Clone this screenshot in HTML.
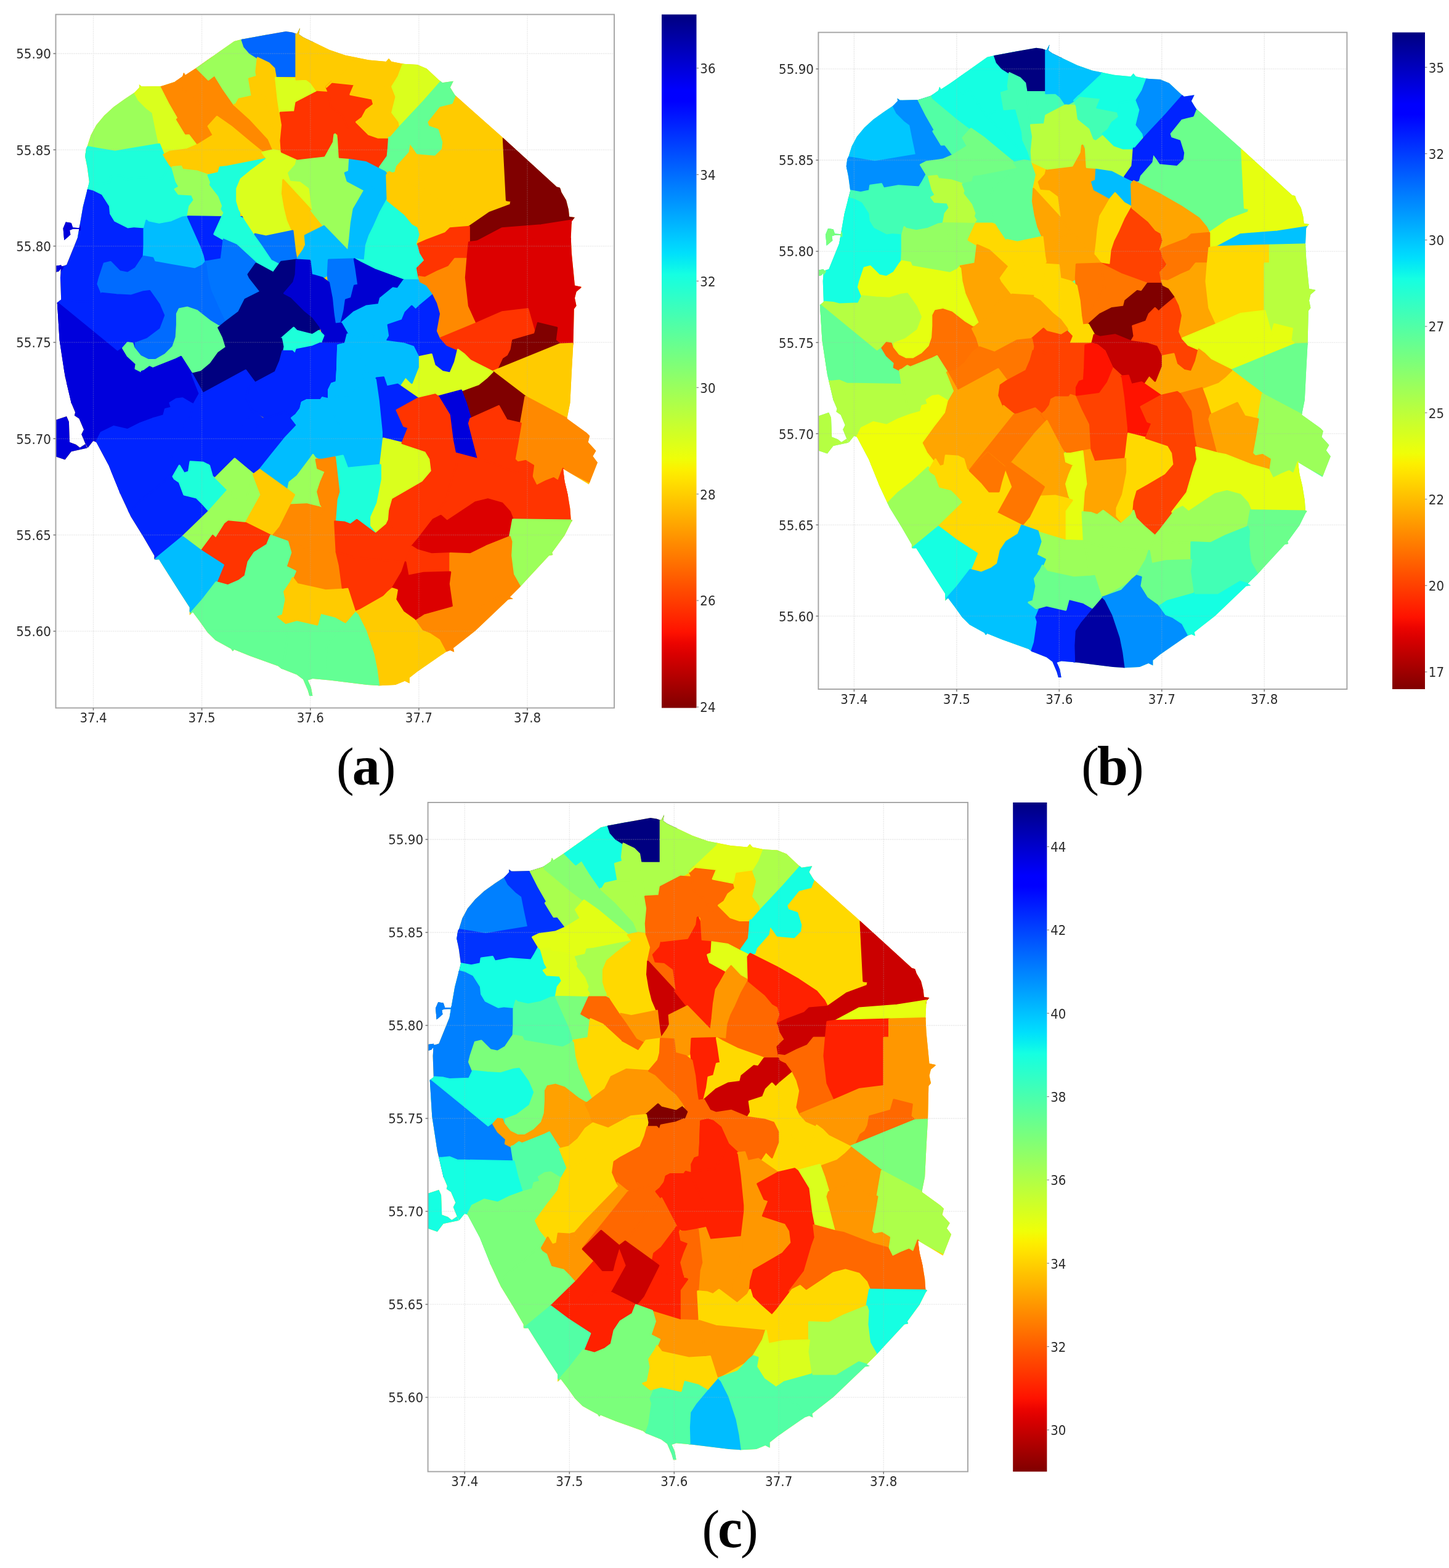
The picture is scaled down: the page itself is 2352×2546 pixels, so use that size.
<!DOCTYPE html>
<html lang="en"><head><meta charset="utf-8"><title>Figure</title>
<style>html,body{margin:0;padding:0;background:#fff}body{width:2352px;height:2546px;overflow:hidden}svg{display:block}.t{font-family:"DejaVu Sans","Liberation Sans",sans-serif;font-size:21px;fill:#2a2a2a}.cap{font-family:"Liberation Serif","DejaVu Serif",serif;font-size:86px;fill:#000;letter-spacing:-3px}.g{stroke:#b0b0b0;stroke-width:1.3;stroke-dasharray:1.3 1.7;fill:none;opacity:.42}</style></head><body>
<svg width="2352" height="2546" viewBox="0 0 2352 2546" role="img" aria-label="Three choropleth maps (a), (b), (c) with colour bars">
<rect width="2352" height="2546" fill="#fff"/>
<defs><linearGradient id="jr" x1="0" y1="1" x2="0" y2="0">
<stop offset="0.0000" stop-color="#800000"/>
<stop offset="0.0156" stop-color="#920000"/>
<stop offset="0.0312" stop-color="#a40000"/>
<stop offset="0.0469" stop-color="#b60000"/>
<stop offset="0.0625" stop-color="#c80000"/>
<stop offset="0.0781" stop-color="#da0000"/>
<stop offset="0.0938" stop-color="#ec0400"/>
<stop offset="0.1094" stop-color="#fe1200"/>
<stop offset="0.1250" stop-color="#ff2100"/>
<stop offset="0.1406" stop-color="#ff3000"/>
<stop offset="0.1562" stop-color="#ff3f00"/>
<stop offset="0.1719" stop-color="#ff4d00"/>
<stop offset="0.1875" stop-color="#ff5c00"/>
<stop offset="0.2031" stop-color="#ff6b00"/>
<stop offset="0.2188" stop-color="#ff7a00"/>
<stop offset="0.2344" stop-color="#ff8800"/>
<stop offset="0.2500" stop-color="#ff9700"/>
<stop offset="0.2656" stop-color="#ffa600"/>
<stop offset="0.2812" stop-color="#ffb500"/>
<stop offset="0.2969" stop-color="#ffc300"/>
<stop offset="0.3125" stop-color="#ffd200"/>
<stop offset="0.3281" stop-color="#ffe100"/>
<stop offset="0.3438" stop-color="#fcf000"/>
<stop offset="0.3594" stop-color="#effe08"/>
<stop offset="0.3750" stop-color="#e2ff15"/>
<stop offset="0.3906" stop-color="#d5ff21"/>
<stop offset="0.4062" stop-color="#c9ff2e"/>
<stop offset="0.4219" stop-color="#bcff3b"/>
<stop offset="0.4375" stop-color="#afff48"/>
<stop offset="0.4531" stop-color="#a2ff55"/>
<stop offset="0.4688" stop-color="#95ff62"/>
<stop offset="0.4844" stop-color="#88ff6f"/>
<stop offset="0.5000" stop-color="#7bff7b"/>
<stop offset="0.5156" stop-color="#6fff88"/>
<stop offset="0.5312" stop-color="#62ff95"/>
<stop offset="0.5469" stop-color="#55ffa2"/>
<stop offset="0.5625" stop-color="#48ffaf"/>
<stop offset="0.5781" stop-color="#3bffbc"/>
<stop offset="0.5938" stop-color="#2effc9"/>
<stop offset="0.6094" stop-color="#21ffd5"/>
<stop offset="0.6250" stop-color="#15ffe2"/>
<stop offset="0.6406" stop-color="#08efef"/>
<stop offset="0.6562" stop-color="#00dffc"/>
<stop offset="0.6719" stop-color="#00cfff"/>
<stop offset="0.6875" stop-color="#00bfff"/>
<stop offset="0.7031" stop-color="#00afff"/>
<stop offset="0.7188" stop-color="#009fff"/>
<stop offset="0.7344" stop-color="#008fff"/>
<stop offset="0.7500" stop-color="#0080ff"/>
<stop offset="0.7656" stop-color="#0070ff"/>
<stop offset="0.7812" stop-color="#0060ff"/>
<stop offset="0.7969" stop-color="#0050ff"/>
<stop offset="0.8125" stop-color="#0040ff"/>
<stop offset="0.8281" stop-color="#0030ff"/>
<stop offset="0.8438" stop-color="#0020ff"/>
<stop offset="0.8594" stop-color="#0010ff"/>
<stop offset="0.8750" stop-color="#0000ff"/>
<stop offset="0.8906" stop-color="#0000fe"/>
<stop offset="0.9062" stop-color="#0000ec"/>
<stop offset="0.9219" stop-color="#0000da"/>
<stop offset="0.9375" stop-color="#0000c8"/>
<stop offset="0.9531" stop-color="#0000b6"/>
<stop offset="0.9688" stop-color="#0000a4"/>
<stop offset="0.9844" stop-color="#000092"/>
<stop offset="1.0000" stop-color="#000080"/>
</linearGradient>
<clipPath id="axa"><rect x="90.5" y="23.5" width="906.5" height="1126.0"/></clipPath>
<clipPath id="citya"><path d="M194.5 800.1L176.7 756.1L156.4 717.9L151.3 716.1L142.4 727.3L138.6 720.5L132.2 705.2L136.0 697.6L128.4 679.8L120.8 674.7L122.1 669.6L115.7 654.3L105.5 611.1L96.6 552.6L92.8 491.6L99.2 486.5L97.9 450.9L99.2 433.1L108.1 430.1L125.9 386.1L134.8 335.2L141.6 308.5L144.9 295.8L141.6 271.6L138.1 253.8L139.9 241.1L141.6 238.0L147.5 219.5L156.4 202.9L169.1 187.7L184.4 173.7L202.2 161.0L218.7 150.0L226.3 141.9L225.8 137.3L230.1 140.6L261.9 139.9L283.5 133.0L296.3 124.1L298.3 117.7L300.8 122.1L319.2 110.1L354.8 84.7L380.2 66.9L392.9 63.8L431.1 56.7L464.1 50.9L474.3 52.4L481.9 54.9L487.0 45.3L485.0 55.4L492.1 60.5L534.8 80.9L560.4 89.8L598.6 97.4L626.6 99.9L631.1 94.9L635.5 99.9L654.5 103.8L677.4 105.0L692.7 111.4L713.0 130.5L718.1 134.3L735.9 131.7L730.8 141.9L738.5 154.6L817.3 224.6L903.8 303.4L908.9 304.7L911.4 312.3L919.0 325.0L922.9 340.3L924.1 351.7L933.0 353.0L927.9 359.4L926.7 386.1L927.9 411.5L930.5 438.1L933.0 463.6L944.5 466.1L935.6 473.8L933.0 483.9L935.6 496.6L931.8 501.7L930.5 557.7L927.9 603.5L925.4 654.3L920.3 679.8L952.1 702.7L957.2 707.7L954.6 717.9L967.4 731.9L962.3 740.8L969.9 751.0L955.9 786.6L914.0 761.1L916.5 781.5L921.6 803.1L925.4 826.0L926.7 843.8L929.2 845.0L926.7 848.8L916.5 869.2L896.1 897.2L897.4 901.0L891.1 902.3L844.0 953.1L827.5 969.6L832.6 972.2L824.9 973.5L771.5 1024.3L735.9 1052.3L737.2 1058.7L730.8 1056.1L723.2 1058.7L677.4 1090.5L664.7 1100.6L664.7 1109.5L657.1 1105.7L641.8 1112.1L616.4 1113.3L596.0 1112.1L535.0 1104.4L507.4 1101.9L499.7 1104.4L504.8 1115.9L507.4 1129.9L502.3 1129.9L499.7 1121.0L492.1 1103.2L481.9 1095.5L456.5 1085.4L451.4 1081.6L405.6 1065.0L380.2 1054.8L377.7 1057.4L375.1 1053.6L349.7 1039.6L337.0 1026.9L324.2 1009.1L312.8 993.8L307.7 998.9L307.7 986.2L291.2 960.7L273.4 932.8L258.1 908.6L250.5 908.6L250.5 902.3L232.7 871.7L212.3 838.7L194.5 800.5ZM89.0 682.3L108.1 675.9L111.9 684.8L113.1 717.9L123.3 721.7L129.7 726.8L138.6 721.0L141.6 727.6L115.7 733.2L105.5 746.4L89.0 740.8ZM89.0 431.8L99.2 430.5L100.4 434.3L95.3 440.7L89.0 442.0ZM106.8 360.6L115.7 361.9L118.2 369.5L129.7 370.3L129.7 371.6L117.7 372.1L113.1 373.9L114.4 381.0L104.2 389.9L102.5 370.8Z"/></clipPath>
<clipPath id="axb"><rect x="1328.4" y="52.6" width="858.0" height="1066.4"/></clipPath>
<clipPath id="cityb"><path d="M1427.1 787.4L1410.2 745.7L1391.0 709.6L1386.2 707.9L1377.8 718.5L1374.2 712.0L1368.2 697.5L1371.8 690.3L1364.6 673.5L1357.4 668.6L1358.6 663.8L1352.6 649.4L1342.9 608.4L1334.5 553.0L1330.9 495.2L1336.9 490.3L1335.7 456.6L1336.9 439.7L1345.3 436.9L1362.2 395.2L1370.6 347.0L1377.1 321.7L1380.2 309.7L1377.1 286.8L1373.7 269.9L1375.4 257.9L1377.1 255.0L1382.6 237.4L1391.0 221.7L1403.0 207.3L1417.5 194.0L1434.3 182.0L1449.9 171.6L1457.1 163.9L1456.6 159.6L1460.7 162.7L1490.8 162.0L1511.2 155.5L1523.2 147.0L1525.1 141.0L1527.5 145.1L1544.8 133.8L1578.5 109.7L1602.5 92.8L1614.5 89.9L1650.6 83.2L1681.9 77.7L1691.5 79.1L1698.7 81.5L1703.5 72.4L1701.6 82.0L1708.3 86.8L1748.7 106.1L1772.9 114.5L1808.9 121.7L1835.4 124.2L1839.7 119.3L1843.8 124.2L1861.8 127.8L1883.4 129.0L1897.9 135.0L1917.1 153.1L1921.9 156.7L1938.7 154.3L1933.9 163.9L1941.1 176.0L2015.6 242.2L2097.4 316.9L2102.2 318.1L2104.6 325.3L2111.8 337.4L2115.4 351.8L2116.6 362.7L2125.0 363.9L2120.2 369.9L2119.0 395.2L2120.2 419.3L2122.6 444.6L2125.0 468.7L2135.8 471.1L2127.4 478.3L2125.0 487.9L2127.4 500.0L2123.8 504.8L2122.6 557.8L2120.2 601.2L2117.8 649.4L2113.0 673.5L2143.0 695.1L2147.8 700.0L2145.4 709.6L2157.4 722.8L2152.6 731.3L2159.8 740.9L2146.6 774.6L2107.0 750.6L2109.4 769.8L2114.2 790.3L2117.8 811.9L2119.0 828.8L2121.4 830.0L2119.0 833.6L2109.4 852.9L2090.1 879.4L2091.3 883.0L2085.3 884.2L2040.9 932.4L2025.2 948.1L2030.1 950.5L2022.8 951.7L1972.4 999.9L1938.7 1026.4L1939.9 1032.4L1933.9 1030.0L1926.7 1032.4L1883.4 1062.5L1871.4 1072.2L1871.4 1080.6L1864.2 1077.0L1849.8 1083.0L1825.7 1084.2L1806.5 1083.0L1748.8 1075.8L1722.7 1073.4L1715.5 1075.8L1720.3 1086.6L1722.7 1099.9L1717.9 1099.9L1715.5 1091.4L1708.3 1074.6L1698.7 1067.3L1674.6 1057.7L1669.8 1054.1L1626.6 1038.4L1602.5 1028.8L1600.1 1031.2L1597.7 1027.6L1573.7 1014.3L1561.7 1002.3L1549.7 985.4L1538.8 971.0L1534.0 975.8L1534.0 963.7L1518.4 939.6L1501.6 913.1L1487.2 890.3L1479.9 890.3L1479.9 884.2L1463.1 855.3L1443.9 824.0L1427.1 787.9ZM1327.3 675.9L1345.3 669.8L1349.0 678.3L1350.2 709.6L1359.8 713.2L1365.8 718.0L1374.2 712.5L1377.1 718.7L1352.6 724.1L1342.9 736.6L1327.3 731.3ZM1327.3 438.5L1336.9 437.3L1338.1 440.9L1333.3 447.0L1327.3 448.2ZM1344.1 371.1L1352.6 372.3L1355.0 379.6L1365.8 380.3L1365.8 381.5L1354.5 382.0L1350.2 383.6L1351.4 390.4L1341.7 398.8L1340.1 380.8Z"/></clipPath>
<clipPath id="axc"><rect x="694.6" y="1303.0" width="876.4" height="1086.5"/></clipPath>
<clipPath id="cityc"><path d="M795.8 2051.7L778.7 2009.2L759.0 1972.4L754.1 1970.7L745.5 1981.5L741.8 1974.9L735.7 1960.1L739.4 1952.7L732.0 1935.6L724.7 1930.6L725.9 1925.7L719.7 1911.0L709.9 1869.2L701.3 1812.7L697.7 1753.8L703.8 1748.9L702.6 1714.5L703.8 1697.3L712.4 1694.4L729.6 1651.9L738.2 1602.7L744.8 1576.9L748.0 1564.7L744.8 1541.3L741.3 1524.1L743.1 1511.8L744.8 1508.9L750.4 1491.0L759.0 1475.0L771.3 1460.3L786.0 1446.7L803.2 1434.5L819.1 1423.9L826.5 1416.0L826.0 1411.6L830.2 1414.8L860.9 1414.1L881.7 1407.4L894.0 1398.8L896.0 1392.7L898.4 1396.9L916.1 1385.3L950.5 1360.8L975.0 1343.6L987.3 1340.6L1024.1 1333.7L1056.0 1328.1L1065.8 1329.6L1073.2 1332.0L1078.1 1322.7L1076.1 1332.5L1083.0 1337.4L1124.2 1357.1L1149.0 1365.7L1185.8 1373.0L1212.8 1375.5L1217.2 1370.6L1221.4 1375.5L1239.8 1379.2L1261.9 1380.4L1276.6 1386.6L1296.2 1405.0L1301.1 1408.7L1318.3 1406.2L1313.4 1416.0L1320.8 1428.3L1396.9 1495.9L1480.3 1572.0L1485.2 1573.3L1487.7 1580.6L1495.0 1592.9L1498.7 1607.6L1499.9 1618.7L1508.5 1619.9L1503.6 1626.1L1502.4 1651.9L1503.6 1676.4L1506.1 1702.2L1508.5 1726.7L1519.6 1729.2L1511.0 1736.6L1508.5 1746.4L1511.0 1758.7L1507.3 1763.6L1506.1 1817.6L1503.6 1861.9L1501.2 1911.0L1496.3 1935.6L1526.9 1957.7L1531.9 1962.6L1529.4 1972.4L1541.7 1985.9L1536.8 1994.5L1544.1 2004.3L1530.6 2038.7L1490.1 2014.2L1492.6 2033.8L1497.5 2054.6L1501.2 2076.8L1502.4 2094.0L1504.9 2095.2L1502.4 2098.9L1492.6 2118.5L1472.9 2145.5L1474.2 2149.2L1468.0 2150.5L1422.6 2199.6L1406.7 2215.6L1411.6 2218.0L1404.2 2219.2L1352.7 2268.4L1318.3 2295.4L1319.5 2301.5L1313.4 2299.1L1306.0 2301.5L1261.9 2332.2L1249.6 2342.1L1249.6 2350.7L1242.2 2347.0L1227.5 2353.1L1203.0 2354.3L1183.3 2353.1L1124.4 2345.8L1097.7 2343.3L1090.4 2345.8L1095.3 2356.8L1097.7 2370.3L1092.8 2370.3L1090.4 2361.7L1083.0 2344.5L1073.2 2337.2L1048.6 2327.3L1043.7 2323.6L999.6 2307.7L975.0 2297.8L972.6 2300.3L970.1 2296.6L945.6 2283.1L933.3 2270.8L921.0 2253.6L910.0 2238.9L905.1 2243.8L905.1 2231.5L889.1 2207.0L871.9 2179.9L857.2 2156.6L849.8 2156.6L849.8 2150.5L832.6 2121.0L813.0 2089.0L795.8 2052.2ZM694.0 1938.0L712.4 1931.9L716.1 1940.5L717.3 1972.4L727.1 1976.1L733.2 1981.0L741.8 1975.3L744.8 1981.7L719.7 1987.1L709.9 1999.9L694.0 1994.5ZM694.0 1696.0L703.8 1694.8L705.0 1698.5L700.1 1704.6L694.0 1705.9ZM711.2 1627.3L719.7 1628.5L722.2 1635.9L733.2 1636.6L733.2 1637.9L721.7 1638.4L717.3 1640.1L718.5 1647.0L708.7 1655.5L707.0 1637.1Z"/></clipPath>
</defs>
<g clip-path="url(#axa)">
<g clip-path="url(#citya)" shape-rendering="auto">
<rect x="90.5" y="23.5" width="906.5" height="1126.0" fill="#ffcb00"/>
<path d="M113.1 106.3L232.7 141.9L268.3 182.6L278.5 258.9L113.1 258.9Z" fill="#9cff5a" stroke="#9cff5a" stroke-width="3" stroke-linejoin="round"/>
<path d="M212.3 131.7L218.7 150.0L225.1 162.3L237.8 175.0L247.9 182.6L253.0 208.0L258.6 234.2L263.2 258.9L329.3 258.9L329.3 131.7Z" fill="#daff1d" stroke="#daff1d" stroke-width="3" stroke-linejoin="round"/>
<path d="M125.9 238.0L141.6 238.5L164.0 242.4L186.9 246.2L217.4 241.1L258.6 234.2L265.7 251.3L275.9 267.8L303.9 309.8L125.9 309.8Z" fill="#1dffda" stroke="#1dffda" stroke-width="3" stroke-linejoin="round"/>
<path d="M125.9 295.8L144.9 295.8L162.7 299.1L178.0 295.8L179.3 286.9L198.3 284.3L202.2 292.0L227.6 287.4L263.2 289.9L268.3 281.8L275.9 267.8L329.3 267.8L329.3 386.1L125.9 386.1Z" fill="#1dffda" stroke="#1dffda" stroke-width="3" stroke-linejoin="round"/>
<path d="M261.9 93.6L261.9 139.9L275.9 167.3L289.9 191.5L287.4 194.0L301.4 216.9L307.7 216.4L321.7 234.7L329.3 258.9L405.6 258.9L405.6 93.6Z" fill="#ff8900" stroke="#ff8900" stroke-width="3" stroke-linejoin="round"/>
<path d="M286.1 93.6L286.1 136.3L329.3 172.4L352.2 189.5L380.2 223.3L426.0 258.9L456.5 258.9L456.5 106.3Z" fill="#ff8900" stroke="#ff8900" stroke-width="3" stroke-linejoin="round"/>
<path d="M275.9 267.8L265.7 251.3L275.9 246.2L303.9 242.4L321.7 234.7L346.4 219.5L338.2 205.0L352.2 189.5L375.1 205.5L405.6 230.9L426.0 247.5L443.8 258.9L405.6 297.0L288.6 297.0L279.7 271.6Z" fill="#ffcb00" stroke="#ffcb00" stroke-width="3" stroke-linejoin="round"/>
<path d="M279.7 271.6L293.7 270.3L296.3 275.4L319.2 278.0L338.2 284.3L380.2 284.3L380.2 360.6L304.7 360.6L304.7 351.7L307.7 335.2L315.3 325.0L311.5 316.1L289.9 314.8L284.1 307.2L291.2 303.4L286.1 294.5Z" fill="#9cff5a" stroke="#9cff5a" stroke-width="3" stroke-linejoin="round"/>
<path d="M314.1 106.3L319.2 110.1L338.2 129.2L348.4 121.6L362.4 144.4L380.2 169.9L431.1 169.9L431.1 42.7L314.1 42.7Z" fill="#9cff5a" stroke="#9cff5a" stroke-width="3" stroke-linejoin="round"/>
<path d="M391.6 55.4L392.9 64.3L396.7 75.8L405.6 86.0L418.3 94.1L431.1 136.8L507.4 136.8L507.4 40.2L391.6 40.2Z" fill="#0066ff" stroke="#0066ff" stroke-width="3" stroke-linejoin="round"/>
<path d="M409.2 156.1L387.8 161.0L382.7 169.9L380.2 169.9L405.6 192.8L436.1 225.8L443.8 243.6L456.5 246.7L481.9 246.7L481.9 156.1Z" fill="#ffcb00" stroke="#ffcb00" stroke-width="3" stroke-linejoin="round"/>
<path d="M418.3 94.1L436.1 102.5L445.0 111.4L447.6 126.6L481.9 126.6L481.9 248.7L456.5 246.7L451.2 229.1L441.7 208.8L440.5 195.3L429.5 154.6L409.2 156.1L404.4 127.9L417.1 124.1L415.8 116.5Z" fill="#ffcb00" stroke="#ffcb00" stroke-width="3" stroke-linejoin="round"/>
<path d="M447.6 126.6L480.7 127.9L504.8 127.9L512.4 148.3L479.4 164.8L478.1 180.1L454.5 182.6L451.4 162.3Z" fill="#daff1d" stroke="#daff1d" stroke-width="3" stroke-linejoin="round"/>
<path d="M113.1 308.5L141.6 308.5L151.3 311.0L164.0 317.4L175.5 335.2L176.7 347.9L184.4 360.6L207.3 372.1L217.4 370.8L234.0 372.1L253.0 400.0L253.0 501.7L75.0 501.7L75.0 400.0Z" fill="#0024ff" stroke="#0024ff" stroke-width="3" stroke-linejoin="round"/>
<path d="M305.2 351.7L296.3 353.0L278.5 360.6L258.1 364.4L240.3 360.6L237.8 358.1L234.0 372.1L234.0 400.0L233.2 416.5L233.2 450.9L380.2 450.9L380.2 353.0Z" fill="#00bdff" stroke="#00bdff" stroke-width="3" stroke-linejoin="round"/>
<path d="M305.2 351.7L361.1 352.5L405.6 352.4L405.6 476.3L334.4 476.3L334.4 424.7L331.9 414.0L326.8 400.0Z" fill="#0024ff" stroke="#0024ff" stroke-width="3" stroke-linejoin="round"/>
<path d="M165.3 476.3L158.9 461.0L161.5 450.9L169.1 428.0L179.3 425.4L186.9 433.1L194.5 440.7L207.3 443.2L220.0 435.6L230.1 420.3L233.2 416.5L247.9 419.1L250.5 425.4L278.5 430.5L316.6 436.9L329.3 430.5L334.4 424.7L405.6 424.7L405.6 603.5L165.3 603.5Z" fill="#006bff" stroke="#006bff" stroke-width="3" stroke-linejoin="round"/>
<path d="M75.0 489.0L92.8 489.0L100.4 486.5L115.7 487.7L125.9 490.3L158.9 489.0L165.3 476.3L189.4 478.8L212.3 480.1L232.7 473.8L242.9 472.5L258.1 494.1L265.7 511.9L258.1 532.3L237.8 547.5L217.4 555.1L217.4 603.5L75.0 603.5Z" fill="#0024ff" stroke="#0024ff" stroke-width="3" stroke-linejoin="round"/>
<path d="M75.0 476.3L92.8 491.6L190.7 571.7L199.6 565.3L207.3 578.0L221.2 590.7L220.0 598.4L230.1 603.5L234.0 627.6L234.0 654.3L75.0 654.3Z" fill="#0000dc" stroke="#0000dc" stroke-width="3" stroke-linejoin="round"/>
<path d="M199.6 565.3L207.3 556.4L214.9 557.7L217.4 565.3L227.6 578.0L240.3 584.4L253.0 584.4L268.3 575.5L281.0 562.8L286.1 547.5L287.4 527.2L287.4 509.4L291.2 501.7L303.9 499.2L319.2 504.3L342.0 522.1L354.8 529.7L380.2 529.7L380.2 628.9L253.0 628.9L239.0 607.3L230.1 603.5L220.0 598.4L221.2 590.7L207.3 578.0Z" fill="#63ff94" stroke="#63ff94" stroke-width="3" stroke-linejoin="round"/>
<path d="M230.1 603.5L234.0 602.2L242.9 595.8L247.9 598.4L286.1 583.1L293.7 579.3L311.5 607.3L354.8 607.3L354.8 730.6L234.0 730.6L234.0 627.6Z" fill="#0000dc" stroke="#0000dc" stroke-width="3" stroke-linejoin="round"/>
<path d="M75.0 622.5L113.1 622.5L125.9 621.3L138.6 626.4L234.0 628.1L240.3 654.3L247.9 679.8L247.9 800.1L75.0 800.1Z" fill="#0000dc" stroke="#0000dc" stroke-width="3" stroke-linejoin="round"/>
<path d="M156.4 717.9L164.0 702.7L184.4 692.5L207.3 697.6L227.6 687.4L247.9 679.8L265.7 674.7L268.3 664.5L278.5 662.0L275.9 654.3L286.1 648.0L296.3 646.7L309.0 654.3L314.1 656.9L329.3 656.9L329.3 800.1L125.9 800.1Z" fill="#0024ff" stroke="#0024ff" stroke-width="3" stroke-linejoin="round"/>
<path d="M433.5 257.7L426.6 263.1L406.3 278.3L391.0 291.0L384.7 306.3L384.7 326.6L388.5 339.4L388.5 352.1L360.5 352.1L364.3 345.7L360.0 339.4L361.8 334.3L355.4 317.7L341.4 299.9L342.7 296.1L338.1 284.4L354.7 280.6L357.2 271.7L368.7 270.4Z" fill="#1dffda" stroke="#1dffda" stroke-width="3" stroke-linejoin="round"/>
<path d="M360.5 352.1L388.5 352.1L398.7 357.2L413.9 380.1L426.6 397.9L441.9 420.7L457.2 428.4L444.4 443.6L413.9 425.8L383.4 397.9L363.1 389.0L347.8 380.1Z" fill="#1dffda" stroke="#1dffda" stroke-width="3" stroke-linejoin="round"/>
<path d="M425.9 247.5L443.7 243.7L457.2 246.3L464.8 268.1L459.7 292.3L458.4 313.9L462.3 336.8L467.3 357.2L475.0 375.0L431.7 383.9L413.9 380.1L398.7 357.2L388.5 339.4L384.7 326.6L384.7 306.3L391.0 291.0L406.3 278.3L426.6 263.1L433.5 257.7Z" fill="#daff1d" stroke="#daff1d" stroke-width="3" stroke-linejoin="round"/>
<path d="M457.2 246.3L482.6 258.0L480.1 268.1L468.6 280.9L472.4 292.3L487.7 293.6L502.9 305.0L508.0 341.9L505.5 341.9L459.7 292.3L464.8 268.1Z" fill="#daff1d" stroke="#daff1d" stroke-width="3" stroke-linejoin="round"/>
<path d="M459.7 292.3L505.5 341.9L525.8 367.3L495.3 382.6L496.6 397.9L492.8 405.5L481.3 422.0L478.8 408.0L475.0 375.0L467.3 357.2L462.3 336.8L458.4 313.9Z" fill="#ffcb00" stroke="#ffcb00" stroke-width="3" stroke-linejoin="round"/>
<path d="M413.9 380.1L431.7 383.9L475.0 375.0L478.8 408.0L481.3 422.0L457.2 428.4L441.9 420.7L426.6 397.9Z" fill="#0075ff" stroke="#0075ff" stroke-width="3" stroke-linejoin="round"/>
<path d="M482.6 258.0L525.8 252.9L538.5 230.0L542.4 214.7L548.7 230.0L551.3 255.4L567.8 256.7L566.5 278.3L560.2 280.9L564.0 293.6L589.4 306.3L581.8 326.6L574.2 339.4L570.3 362.3L567.8 387.7L565.3 408.0L525.8 367.3L505.5 341.9L508.0 341.9L502.9 305.0L487.7 293.6L472.4 292.3L468.6 280.9L480.1 268.1Z" fill="#9cff5a" stroke="#9cff5a" stroke-width="3" stroke-linejoin="round"/>
<path d="M567.8 256.7L594.5 260.5L617.4 270.7L626.3 280.9L628.8 306.3L628.8 324.1L614.8 316.5L599.6 299.9L592.0 308.8L564.0 293.6L560.2 280.9L566.5 278.3Z" fill="#00bdff" stroke="#00bdff" stroke-width="3" stroke-linejoin="round"/>
<path d="M599.6 299.9L614.8 316.5L628.8 324.1L617.4 344.4L607.2 367.3L599.6 382.6L594.5 397.9L592.0 423.3L575.4 420.7L565.3 408.0L567.8 387.7L570.3 362.3L574.2 339.4L581.8 326.6L592.0 308.8Z" fill="#00bdff" stroke="#00bdff" stroke-width="3" stroke-linejoin="round"/>
<path d="M628.8 324.1L642.8 336.8L658.1 349.5L668.3 362.3L678.4 369.9L682.2 382.6L678.4 397.9L688.6 418.2L678.4 433.5L678.4 455.1L655.5 455.1L609.8 438.5L584.3 425.8L575.4 420.7L592.0 423.3L594.5 397.9L599.6 382.6L607.2 367.3L617.4 344.4Z" fill="#1dffda" stroke="#1dffda" stroke-width="3" stroke-linejoin="round"/>
<path d="M495.3 382.6L525.8 367.3L565.3 408.0L575.4 420.7L533.5 422.0L532.2 446.2L523.3 451.3L505.5 446.2L502.9 423.3L481.3 422.0L492.8 405.5L496.6 397.9Z" fill="#00bdff" stroke="#00bdff" stroke-width="3" stroke-linejoin="round"/>
<path d="M533.5 422.0L575.4 420.7L578.0 436.0L581.8 462.7L575.4 464.0L570.3 484.3L561.4 486.9L558.9 504.7L553.8 525.0L543.6 526.3L541.1 509.8L538.5 484.3L533.5 458.9L532.2 446.2Z" fill="#0075ff" stroke="#0075ff" stroke-width="3" stroke-linejoin="round"/>
<path d="M575.4 420.7L584.3 425.8L609.8 438.5L655.5 455.1L645.4 469.1L637.7 467.8L617.4 484.3L614.8 494.5L594.5 497.0L574.2 507.2L553.8 525.0L558.9 504.7L561.4 486.9L570.3 484.3L575.4 464.0L581.8 462.7L578.0 436.0Z" fill="#0000d1" stroke="#0000d1" stroke-width="3" stroke-linejoin="round"/>
<path d="M655.5 455.1L678.4 455.1L691.1 458.9L698.8 469.1L703.9 478.0L681.0 497.0L674.6 503.4L668.3 497.0L658.1 507.2L653.0 519.9L630.1 527.6L632.7 545.4L627.6 554.3L599.6 542.8L574.2 546.6L564.0 542.8L553.8 525.0L574.2 507.2L594.5 497.0L614.8 494.5L617.4 484.3L637.7 467.8L645.4 469.1Z" fill="#00bdff" stroke="#00bdff" stroke-width="3" stroke-linejoin="round"/>
<path d="M703.9 478.0L714.0 504.7L711.5 522.5L711.5 542.8L716.6 553.0L734.4 563.2L742.0 570.8L731.8 606.4L719.1 603.9L703.9 591.1L696.2 575.9L678.4 578.4L670.8 563.2L655.5 558.1L627.6 554.3L632.7 545.4L630.1 527.6L653.0 519.9L658.1 507.2L668.3 497.0L674.6 503.4L681.0 497.0Z" fill="#0024ff" stroke="#0024ff" stroke-width="3" stroke-linejoin="round"/>
<path d="M334.3 425.1L359.2 420.7L363.1 389.0L383.4 397.9L413.9 425.8L403.0 445.7L405.5 450.8L423.3 473.6L397.9 486.4L387.7 506.7L367.4 522.0L354.7 494.0L344.5 471.1L339.4 450.8L336.9 427.9Z" fill="#0075ff" stroke="#0075ff" stroke-width="3" stroke-linejoin="round"/>
<path d="M403.0 445.7L415.7 427.9L443.7 443.1L456.4 425.3L481.3 422.0L480.1 446.2L476.7 458.4L461.5 476.2L423.3 473.6L405.5 450.8Z" fill="#000080" stroke="#000080" stroke-width="3" stroke-linejoin="round"/>
<path d="M367.4 522.0L387.7 506.7L397.9 486.4L423.3 473.6L461.5 476.2L472.4 481.8L495.3 504.7L508.0 514.8L519.5 530.1L515.7 540.3L508.0 542.8L481.8 537.2L476.7 532.1L456.4 549.9L431.0 552.5L392.8 572.8L367.4 563.9L362.3 547.4L354.7 532.1Z" fill="#000080" stroke="#000080" stroke-width="3" stroke-linejoin="round"/>
<path d="M481.3 422.0L502.9 423.3L505.5 446.2L523.3 451.3L533.5 458.9L538.5 484.3L541.1 509.8L543.6 526.3L553.8 525.0L564.0 542.8L560.2 558.1L523.3 558.1L525.8 545.4L519.5 530.1L508.0 514.8L495.3 504.7L472.4 481.8L461.5 476.2L476.7 458.4L480.1 446.2Z" fill="#0000d1" stroke="#0000d1" stroke-width="3" stroke-linejoin="round"/>
<path d="M456.4 549.9L476.7 532.1L481.8 537.2L507.3 543.6L517.4 537.2L525.1 544.9L520.0 557.6L507.3 562.7L481.8 567.7L479.3 575.4L474.2 570.3L458.9 570.3L458.9 562.7Z" fill="#1dffda" stroke="#1dffda" stroke-width="3" stroke-linejoin="round"/>
<path d="M367.5 564.0L392.9 572.9L431.1 552.6L456.5 550.1L459.0 562.8L454.7 586.2L447.1 604.0L414.0 621.8L398.8 601.4L329.3 639.1L311.5 607.3L326.8 603.5L342.0 590.7L354.8 572.9Z" fill="#000080" stroke="#000080" stroke-width="3" stroke-linejoin="round"/>
<path d="M480.9 45.3L480.9 128.9L497.2 128.2L505.3 134.3L515.5 149.0L529.7 141.1L577.0 96.6L577.0 55.4Z" fill="#ffcb00" stroke="#ffcb00" stroke-width="3" stroke-linejoin="round"/>
<path d="M455.2 183.1L478.4 181.8L480.9 166.8L514.7 149.3L533.8 150.6L536.4 172.4L556.7 188.4L563.6 206.2L566.3 207.5L578.5 198.1L598.6 218.2L613.8 223.3L631.6 223.3L630.4 241.1L629.1 253.8L616.4 271.6L594.5 260.4L567.8 256.6L551.3 255.3L549.0 218.2L543.9 214.4L540.1 216.9L538.6 229.9L525.8 252.9L482.6 258.0L457.2 246.3L456.0 228.4L458.5 202.9Z" fill="#ff3400" stroke="#ff3400" stroke-width="3" stroke-linejoin="round"/>
<path d="M529.7 141.1L537.8 133.0L575.7 137.1L568.8 153.3L604.2 160.2L606.7 169.6L594.5 179.0L587.9 191.2L578.5 198.1L566.3 207.5L563.5 206.2L556.6 188.4L536.5 172.4L533.7 150.6Z" fill="#ff3400" stroke="#ff3400" stroke-width="3" stroke-linejoin="round"/>
<path d="M529.7 141.1L577.0 96.6L577.0 80.9L657.1 80.9L654.5 103.8L646.9 124.1L636.7 140.6L608.8 144.4L606.2 157.2L604.2 160.2L568.8 153.3L575.7 137.1L537.8 133.0Z" fill="#ffcb00" stroke="#ffcb00" stroke-width="3" stroke-linejoin="round"/>
<path d="M608.8 144.4L636.7 140.6L643.1 157.2L636.7 182.6L648.2 197.9L634.2 223.3L631.6 223.3L613.8 223.3L598.6 218.2L578.5 198.1L587.9 191.2L594.5 179.0L606.7 169.6L604.2 160.2L606.2 157.2Z" fill="#ffcb00" stroke="#ffcb00" stroke-width="3" stroke-linejoin="round"/>
<path d="M654.5 103.8L654.5 80.9L718.1 106.3L715.6 133.0L687.6 164.8L649.4 205.5L648.2 197.9L636.7 182.6L643.1 157.2L636.7 140.6L646.9 124.1Z" fill="#daff1d" stroke="#daff1d" stroke-width="3" stroke-linejoin="round"/>
<path d="M738.5 154.6L817.3 224.6L822.4 325.0L830.0 326.3L828.7 332.7L794.4 345.4L761.4 368.3L756.3 358.1L743.5 342.8L713.0 322.5L677.4 302.1L641.8 284.3L631.6 279.2L639.3 278.0L641.8 269.1L662.2 246.2L664.7 230.9L672.3 241.1L677.4 248.7L705.4 251.3L715.6 241.1L716.8 230.9L710.5 210.6L695.2 205.5L692.7 197.9L713.0 172.4L723.2 169.9L733.4 167.3Z" fill="#ffcb00" stroke="#ffcb00" stroke-width="3" stroke-linejoin="round"/>
<path d="M715.6 133.0L718.1 126.6L738.5 126.6L738.5 154.6L733.4 167.3L723.2 169.9L713.0 172.4L692.7 197.9L695.2 205.5L710.5 210.6L716.8 230.9L715.6 241.1L705.4 251.3L677.4 248.7L672.3 241.1L664.7 230.9L662.2 246.2L641.8 269.1L639.3 278.0L631.6 279.2L616.4 271.6L629.1 253.8L630.4 241.1L631.6 223.3L634.2 223.3L649.4 205.5L687.6 164.8Z" fill="#63ff94" stroke="#63ff94" stroke-width="3" stroke-linejoin="round"/>
<path d="M631.6 279.2L641.8 284.3L677.4 302.1L713.0 322.5L743.5 342.8L756.3 358.1L761.4 368.3L730.8 370.8L723.2 378.4L692.7 389.9L677.4 396.2L682.5 381.0L678.7 368.3L669.8 363.2L657.1 347.9L644.4 337.7L629.1 325.0L627.8 284.3Z" fill="#ffcb00" stroke="#ffcb00" stroke-width="3" stroke-linejoin="round"/>
<path d="M817.3 224.6L941.9 335.2L941.9 360.6L927.9 361.9L878.3 368.3L814.8 374.6L761.4 398.8L761.4 368.3L794.4 345.4L828.7 332.7L830.0 326.3L822.4 325.0Z" fill="#800000" stroke="#800000" stroke-width="3" stroke-linejoin="round"/>
<path d="M774.1 392.4L814.8 370.8L878.3 365.7L927.9 358.1L941.9 358.1L941.9 388.6L927.9 388.6Z" fill="#dc0000" stroke="#dc0000" stroke-width="3" stroke-linejoin="round"/>
<path d="M678.7 396.2L692.7 389.8L723.2 378.4L730.8 370.8L761.4 368.2L761.4 393.6L758.8 420.3L738.5 420.3L728.3 433.1L710.5 440.7L690.1 450.9L680.0 449.6L677.4 435.6L690.1 422.9L682.5 410.2Z" fill="#ff3400" stroke="#ff3400" stroke-width="3" stroke-linejoin="round"/>
<path d="M680.0 449.6L690.1 450.9L710.5 440.7L728.3 433.1L738.5 420.3L758.8 420.3L756.3 450.9L761.4 496.6L774.1 524.6L715.6 548.8L710.5 537.3L715.6 509.4L710.5 491.6L702.9 476.3L692.7 462.3L682.5 457.2Z" fill="#ff8900" stroke="#ff8900" stroke-width="3" stroke-linejoin="round"/>
<path d="M761.4 393.6L774.1 391.9L865.6 389.3L865.6 420.3L856.7 420.3L856.7 501.7L814.8 506.8L774.1 524.6L761.4 496.6L756.3 450.9L758.8 420.3Z" fill="#dc0000" stroke="#dc0000" stroke-width="3" stroke-linejoin="round"/>
<path d="M865.6 389.3L941.9 387.3L941.9 557.7L908.9 559.0L901.2 552.6L903.8 532.3L873.3 524.6L868.2 542.4L856.7 501.7L856.7 420.3L865.6 420.3Z" fill="#dc0000" stroke="#dc0000" stroke-width="3" stroke-linejoin="round"/>
<path d="M715.6 548.8L774.1 524.6L814.8 506.8L856.7 501.7L868.2 542.4L832.6 552.6L830.0 567.9L824.9 578.0L817.3 583.1L809.7 598.4L799.5 603.5L789.3 598.4L763.9 585.7L753.7 575.5L743.5 567.9L725.7 560.2Z" fill="#ff3400" stroke="#ff3400" stroke-width="3" stroke-linejoin="round"/>
<path d="M868.2 542.4L873.3 524.6L903.8 532.3L901.2 552.6L908.9 559.0L809.7 599.6L817.3 583.1L824.9 578.0L830.0 567.9L832.6 552.6Z" fill="#800000" stroke="#800000" stroke-width="3" stroke-linejoin="round"/>
<path d="M799.5 603.5L908.9 559.0L941.9 557.7L941.9 654.3L920.3 679.8L852.9 644.2Z" fill="#ffcb00" stroke="#ffcb00" stroke-width="3" stroke-linejoin="round"/>
<path d="M799.5 603.5L852.9 644.2L845.3 687.4L822.4 682.3L809.7 659.4L763.9 679.8L756.3 654.3L748.6 634.0L776.6 623.8L789.3 613.6Z" fill="#800000" stroke="#800000" stroke-width="3" stroke-linejoin="round"/>
<path d="M852.9 644.2L920.3 679.8L952.1 702.7L980.1 717.9L980.1 794.2L914.0 761.1L906.3 781.5L898.7 776.4L886.0 781.5L870.7 789.1L863.1 779.0L865.6 756.1L852.9 748.4L840.2 751.0L835.1 745.9L840.2 717.9L845.3 687.4Z" fill="#ff8900" stroke="#ff8900" stroke-width="3" stroke-linejoin="round"/>
<path d="M674.9 580.6L700.3 575.5L705.4 593.3L718.1 603.5L730.8 606.0L738.5 588.2L743.5 567.9L753.7 575.5L763.9 585.7L789.3 598.4L799.5 603.5L789.3 613.6L776.6 623.8L748.6 634.0L710.5 644.2L705.4 639.1L685.1 649.2L667.3 636.5L646.9 623.8L654.5 611.1L667.3 618.7L677.4 598.4Z" fill="#daff1d" stroke="#daff1d" stroke-width="3" stroke-linejoin="round"/>
<path d="M710.5 644.2L748.6 634.0L756.3 654.3L763.9 679.8L761.4 687.4L776.6 745.9L738.5 735.7L733.4 717.9L730.8 674.7Z" fill="#0000dc" stroke="#0000dc" stroke-width="3" stroke-linejoin="round"/>
<path d="M763.9 679.8L809.7 659.4L822.4 682.3L845.3 687.4L840.2 717.9L835.1 745.9L840.2 751.0L852.9 748.4L865.6 756.1L863.1 773.9L835.1 766.2L789.3 748.4L776.6 745.9L761.4 687.4Z" fill="#ff3400" stroke="#ff3400" stroke-width="3" stroke-linejoin="round"/>
<path d="M329.3 639.1L398.8 601.4L414.0 621.8L403.1 628.9L400.5 646.7L408.2 664.5L413.3 669.6L354.8 728.1L337.0 748.4L329.3 751.0L309.0 749.7L306.4 766.2L298.8 768.8L288.6 756.1L278.5 743.3L270.8 728.1L291.2 700.1L309.0 677.2L314.1 656.9L324.2 639.1L311.5 607.3Z" fill="#0024ff" stroke="#0024ff" stroke-width="3" stroke-linejoin="round"/>
<path d="M413.9 621.9L447.0 604.1L454.6 586.3L458.9 570.2L474.2 570.2L479.3 575.3L481.8 567.7L507.3 562.6L520.0 557.5L523.3 558.0L560.2 558.0L548.7 560.6L547.5 600.0L546.2 620.3L538.5 622.9L533.5 633.1L534.7 648.3L523.3 645.8L520.7 649.6L497.9 649.6L490.2 653.4L487.7 663.6L480.1 673.8L473.7 678.8L462.3 668.7L431.7 678.8L408.1 664.6L400.4 646.8L403.0 629.0Z" fill="#0024ff" stroke="#0024ff" stroke-width="3" stroke-linejoin="round"/>
<path d="M330.0 750.1L336.9 748.5L354.7 728.2L411.4 669.9L408.1 664.6L426.4 679.9L350.6 774.2L344.0 770.4L340.2 752.6Z" fill="#0024ff" stroke="#0024ff" stroke-width="3" stroke-linejoin="round"/>
<path d="M426.4 679.9L431.7 678.8L462.3 668.7L473.7 678.8L482.6 690.3L462.3 711.9L441.9 737.3L421.6 762.8L411.4 770.4L380.9 745.0L350.6 774.2Z" fill="#0024ff" stroke="#0024ff" stroke-width="3" stroke-linejoin="round"/>
<path d="M560.2 558.0L564.0 542.8L574.2 546.6L599.6 542.8L627.6 554.2L655.5 558.0L670.8 563.1L678.4 578.4L678.4 596.2L668.3 621.6L658.1 611.4L647.9 626.7L645.4 624.2L627.6 628.0L622.5 612.7L611.0 614.0L594.5 598.7L581.8 570.8L569.1 560.6Z" fill="#00bdff" stroke="#00bdff" stroke-width="3" stroke-linejoin="round"/>
<path d="M548.7 560.6L560.2 558.0L569.1 560.6L581.8 570.8L594.5 598.7L611.0 614.0L612.3 615.3L617.4 650.9L622.5 701.7L622.5 711.9L617.4 755.1L564.0 760.2L556.4 739.9L543.6 742.4L523.3 746.2L508.0 738.6L482.6 690.3L473.7 678.8L480.1 673.8L487.7 663.6L490.2 653.4L497.9 649.6L520.7 649.6L523.3 645.8L534.7 648.3L533.5 633.1L538.5 622.9L546.2 620.3L547.5 600.0Z" fill="#00bdff" stroke="#00bdff" stroke-width="3" stroke-linejoin="round"/>
<path d="M473.7 678.8L480.1 673.8L487.7 663.6L490.2 653.4L497.9 649.6L520.7 649.6L523.3 645.8L530.9 648.3L541.1 671.2L553.8 696.6L556.4 739.9L543.6 742.4L523.3 746.2L508.0 738.6L482.6 690.3Z" fill="#00bdff" stroke="#00bdff" stroke-width="3" stroke-linejoin="round"/>
<path d="M548.7 560.6L560.2 558.0L569.1 560.6L581.8 570.8L594.5 598.7L584.3 622.9L571.6 640.7L533.5 645.8L533.5 633.1L538.5 622.9L546.2 620.3L547.5 600.0Z" fill="#00bdff" stroke="#00bdff" stroke-width="3" stroke-linejoin="round"/>
<path d="M421.6 762.8L441.9 737.3L462.3 711.9L482.6 690.3L508.0 738.6L505.5 742.4L482.6 772.9L469.9 783.1L467.3 795.8Z" fill="#00bdff" stroke="#00bdff" stroke-width="3" stroke-linejoin="round"/>
<path d="M469.9 783.1L482.6 772.9L505.5 742.4L508.0 738.6L513.1 746.2L515.7 760.2L528.4 765.3L520.7 783.1L515.7 798.4L520.7 818.7L518.2 823.8L497.9 818.7L469.9 820.0L477.5 803.5L467.3 795.8Z" fill="#9cff5a" stroke="#9cff5a" stroke-width="3" stroke-linejoin="round"/>
<path d="M611.0 614.0L622.5 612.7L627.6 628.0L645.4 624.2L678.4 647.1L644.1 666.1L655.5 691.6L663.2 694.1L653.0 719.5L622.5 711.9L622.5 701.7L617.4 650.9L612.3 615.3Z" fill="#0024ff" stroke="#0024ff" stroke-width="3" stroke-linejoin="round"/>
<path d="M622.5 711.9L653.0 719.5L691.1 732.3L698.8 745.0L701.3 765.3L686.1 783.1L655.5 800.9L637.7 811.1L632.7 828.9L627.6 851.8L609.8 867.0L599.6 854.3L599.6 839.1L609.8 816.2L617.4 778.0L617.4 755.1Z" fill="#daff1d" stroke="#daff1d" stroke-width="3" stroke-linejoin="round"/>
<path d="M543.6 742.4L556.4 739.9L564.0 760.2L617.4 755.1L617.4 778.0L609.8 816.2L599.6 839.1L599.6 854.3L609.8 867.0L579.2 844.2L569.1 851.8L558.9 848.0L543.6 846.7L546.2 811.1L550.0 798.4L546.2 765.3Z" fill="#1dffda" stroke="#1dffda" stroke-width="3" stroke-linejoin="round"/>
<path d="M513.1 746.2L523.3 746.2L543.6 742.4L546.2 765.3L550.0 798.4L546.2 811.1L543.6 846.7L546.2 879.8L546.2 896.3L513.1 895.0L513.1 844.2L525.8 826.4L520.7 818.7L515.7 798.4L520.7 783.1L528.4 765.3L515.7 760.2Z" fill="#ff8900" stroke="#ff8900" stroke-width="3" stroke-linejoin="round"/>
<path d="M439.4 869.6L452.1 854.3L469.9 820.0L497.9 818.7L518.2 823.8L525.8 826.4L513.1 844.2L513.1 895.0L467.3 881.0Z" fill="#ff8900" stroke="#ff8900" stroke-width="3" stroke-linejoin="round"/>
<path d="M467.3 881.0L513.1 895.0L546.2 896.3L551.3 917.9L556.4 956.1L528.4 958.6L482.6 948.4L475.0 938.3L478.8 928.1L464.8 920.5L472.4 892.5Z" fill="#ff8900" stroke="#ff8900" stroke-width="3" stroke-linejoin="round"/>
<path d="M644.1 666.1L678.4 647.1L706.4 640.7L711.5 644.5L729.3 673.8L734.4 714.4L739.5 739.9L741.0 756.2L735.9 786.2L731.8 793.3L721.7 823.8L698.8 846.7L668.3 887.4L647.9 869.6L635.2 856.9L631.4 844.2L632.7 828.9L637.7 811.1L655.5 800.9L686.1 783.1L701.3 765.3L698.8 745.0L691.1 732.3L653.0 719.5L663.2 694.1L655.5 691.6Z" fill="#ff3400" stroke="#ff3400" stroke-width="3" stroke-linejoin="round"/>
<path d="M543.6 846.7L558.9 848.0L569.1 851.8L579.2 844.2L609.8 867.0L627.6 851.8L631.4 844.2L635.2 856.9L647.9 869.6L668.3 887.4L658.1 912.8L655.5 912.8L574.2 905.2L546.2 896.3Z" fill="#ff3400" stroke="#ff3400" stroke-width="3" stroke-linejoin="round"/>
<path d="M546.2 896.3L574.2 905.2L655.5 912.8L658.1 912.8L653.0 928.1L630.1 961.1L576.7 991.7L564.0 956.1L556.4 956.1L551.3 917.9Z" fill="#ff3400" stroke="#ff3400" stroke-width="3" stroke-linejoin="round"/>
<path d="M738.5 735.7L776.6 745.8L789.3 748.4L835.1 766.2L863.1 773.8L870.7 789.1L886.0 781.4L898.7 776.4L906.3 781.4L914.0 761.1L917.8 785.3L927.9 820.9L934.3 845.0L832.6 843.8L827.5 831.0L814.8 817.1L791.9 810.7L771.5 815.8L725.7 846.3L715.6 837.4L702.9 843.8L697.8 846.3L723.2 813.2L735.9 770.0L741.0 756.0Z" fill="#ff3400" stroke="#ff3400" stroke-width="3" stroke-linejoin="round"/>
<path d="M668.3 887.5L677.4 876.8L702.9 843.8L715.6 837.4L725.7 846.3L771.5 815.8L791.9 810.7L814.8 817.1L827.5 831.0L832.6 843.8L827.5 871.7L789.3 887.0L763.9 899.7L730.8 898.4L700.3 899.7L677.4 893.3Z" fill="#dc0000" stroke="#dc0000" stroke-width="3" stroke-linejoin="round"/>
<path d="M658.1 912.9L668.3 887.5L677.4 893.3L700.3 899.7L730.8 898.4L730.8 929.0L687.6 930.2L662.2 935.3Z" fill="#ff3400" stroke="#ff3400" stroke-width="3" stroke-linejoin="round"/>
<path d="M832.6 843.8L926.7 845.0L941.9 846.3L941.9 871.7L844.0 953.1L832.6 932.8L828.7 902.3L830.0 879.4L827.5 871.7Z" fill="#9cff5a" stroke="#9cff5a" stroke-width="3" stroke-linejoin="round"/>
<path d="M730.8 898.4L763.9 899.7L789.3 887.0L827.5 871.7L830.0 879.4L828.7 902.3L832.6 932.8L844.0 953.1L827.5 969.6L814.8 965.8L776.6 988.7L735.9 988.7L733.4 983.6L728.3 948.0L730.8 929.0Z" fill="#ff8900" stroke="#ff8900" stroke-width="3" stroke-linejoin="round"/>
<path d="M672.3 1006.5L687.6 996.4L733.4 983.6L735.9 988.7L776.6 988.7L814.8 965.8L827.5 969.6L840.2 973.5L723.2 1075.2L713.0 1039.6L697.8 1029.4L685.1 1024.3Z" fill="#ff8900" stroke="#ff8900" stroke-width="3" stroke-linejoin="round"/>
<path d="M658.1 912.9L662.2 935.3L687.6 930.2L730.8 929.0L728.3 948.0L733.4 983.6L687.6 996.4L672.3 1006.5L654.5 993.8L641.8 973.5L644.4 958.2L636.7 955.7L653.0 928.2Z" fill="#dc0000" stroke="#dc0000" stroke-width="3" stroke-linejoin="round"/>
<path d="M575.7 993.8L611.3 981.1L630.1 961.3L636.7 955.7L644.4 958.2L641.8 973.5L654.5 993.8L672.3 1006.5L685.1 1024.3L697.8 1029.4L713.0 1039.6L723.2 1058.7L723.2 1087.9L662.2 1126.1L616.4 1126.1L611.3 1087.9L606.2 1062.5L593.5 1024.3L580.8 998.9Z" fill="#ffcb00" stroke="#ffcb00" stroke-width="3" stroke-linejoin="round"/>
<path d="M575.7 993.8L580.8 998.9L593.5 1024.3L606.2 1062.5L611.3 1087.9L616.4 1126.1L530.2 1126.1L528.6 1075.2L530.2 1049.8L540.1 1034.5L560.4 1011.1Z" fill="#63ff94" stroke="#63ff94" stroke-width="3" stroke-linejoin="round"/>
<path d="M180.5 764.9L281.0 764.9L278.5 770.0L250.5 795.4L227.6 813.2L209.8 831.0L189.4 820.9L171.6 770.0Z" fill="#0024ff" stroke="#0024ff" stroke-width="3" stroke-linejoin="round"/>
<path d="M209.8 831.0L227.6 813.2L250.5 795.4L278.5 770.0L283.5 777.6L291.2 782.7L298.8 803.1L319.2 808.1L329.3 818.3L339.5 829.8L296.3 871.7L253.0 907.3L227.6 897.2L189.4 833.6Z" fill="#0024ff" stroke="#0024ff" stroke-width="3" stroke-linejoin="round"/>
<path d="M281.0 773.8L291.2 756.0L298.8 768.7L306.4 766.2L309.0 749.7L329.3 750.9L339.5 756.0L344.6 773.8L370.0 795.4L339.5 829.8L329.3 818.3L319.2 808.1L298.8 803.1L291.2 782.7L283.5 777.6Z" fill="#1dffda" stroke="#1dffda" stroke-width="3" stroke-linejoin="round"/>
<path d="M296.3 871.7L339.5 829.8L370.0 795.4L350.4 775.6L381.0 745.1L411.5 770.5L424.2 803.6L398.8 849.4L370.8 846.8L365.7 850.6L350.4 874.8L345.4 869.7L326.8 894.6Z" fill="#9cff5a" stroke="#9cff5a" stroke-width="3" stroke-linejoin="round"/>
<path d="M350.3 775.5L380.9 745.0L411.4 770.4L403.8 795.8L399.9 811.1L383.4 811.1L370.7 795.8Z" fill="#9cff5a" stroke="#9cff5a" stroke-width="3" stroke-linejoin="round"/>
<path d="M411.4 770.4L421.6 762.8L467.3 795.8L477.5 803.5L452.1 854.3L439.4 869.6L398.7 849.2L424.1 803.5Z" fill="#ffcb00" stroke="#ffcb00" stroke-width="3" stroke-linejoin="round"/>
<path d="M326.8 894.6L345.4 869.7L350.4 874.8L365.7 850.6L370.8 846.8L398.8 849.4L439.5 869.7L433.6 884.4L413.3 897.2L403.1 912.4L398.0 935.3L387.8 942.9L370.0 950.6L350.9 945.5L362.4 917.5Z" fill="#ff3400" stroke="#ff3400" stroke-width="3" stroke-linejoin="round"/>
<path d="M253.0 907.3L296.3 871.7L326.8 894.6L362.4 917.5L350.9 945.5L329.3 973.5L311.5 993.8L298.8 988.7L273.4 948.0Z" fill="#00bdff" stroke="#00bdff" stroke-width="3" stroke-linejoin="round"/>
<path d="M311.5 993.8L329.3 973.5L350.9 945.5L370.0 950.6L387.8 942.9L398.0 935.3L403.1 912.4L413.3 897.2L433.6 884.4L439.5 869.7L466.7 879.4L471.8 897.2L464.1 920.1L479.4 927.7L471.8 945.5L461.6 960.7L464.1 973.5L459.0 998.9L451.4 1001.4L464.1 1011.6L471.8 1009.1L464.1 1026.9L466.7 1034.5L461.6 1070.1L456.5 1085.4L431.1 1100.6L303.9 1024.3Z" fill="#63ff94" stroke="#63ff94" stroke-width="3" stroke-linejoin="round"/>
<path d="M464.1 1011.6L481.9 1006.5L515.0 1014.2L520.1 995.1L545.0 1001.4L560.5 1010.3L540.2 1034.5L530.2 1049.8L528.7 1075.2L530.2 1126.1L494.6 1138.8L456.5 1085.4L461.6 1070.1L466.7 1034.5L464.1 1026.9L471.8 1009.1Z" fill="#63ff94" stroke="#63ff94" stroke-width="3" stroke-linejoin="round"/>
<path d="M451.4 1001.4L459.0 998.9L464.1 973.5L461.6 960.7L471.8 945.5L475.1 938.4L482.7 948.5L528.5 958.7L558.0 956.9L564.1 956.2L575.8 992.5L560.5 1010.3L545.0 1001.4L520.1 995.1L515.0 1014.2L481.9 1006.5L464.1 1011.6Z" fill="#ffcb00" stroke="#ffcb00" stroke-width="3" stroke-linejoin="round"/>
<path d="M100.4 358.1L120.8 358.1L129.7 368.3L129.7 373.3L118.2 373.3L105.5 392.4L100.4 392.4Z" fill="#0000dc" stroke="#0000dc" stroke-width="3" stroke-linejoin="round"/>
<path d="M87.7 429.2L100.4 429.2L101.7 434.3L96.6 442.0L87.7 443.2Z" fill="#0000dc" stroke="#0000dc" stroke-width="3" stroke-linejoin="round"/>
</g>
<path class="g" d="M151.5 23.5V1149.5M327.6 23.5V1149.5M503.8 23.5V1149.5M679.9 23.5V1149.5M856.0 23.5V1149.5M90.5 1024.9H997.0M90.5 868.6H997.0M90.5 712.3H997.0M90.5 555.9H997.0M90.5 399.6H997.0M90.5 243.3H997.0M90.5 87.0H997.0"/>
</g>
<rect x="90.5" y="23.5" width="906.5" height="1126.0" fill="none" stroke="#a4a4a4" stroke-width="1.9"/>
<path d="M151.5 1149.5v4" stroke="#777" stroke-width="1.5"/>
<text class="t" transform="translate(151.5,1173.4) scale(0.945,1)" text-anchor="middle">37.4</text>
<path d="M327.6 1149.5v4" stroke="#777" stroke-width="1.5"/>
<text class="t" transform="translate(327.6,1173.4) scale(0.945,1)" text-anchor="middle">37.5</text>
<path d="M503.8 1149.5v4" stroke="#777" stroke-width="1.5"/>
<text class="t" transform="translate(503.8,1173.4) scale(0.945,1)" text-anchor="middle">37.6</text>
<path d="M679.9 1149.5v4" stroke="#777" stroke-width="1.5"/>
<text class="t" transform="translate(679.9,1173.4) scale(0.945,1)" text-anchor="middle">37.7</text>
<path d="M856.0 1149.5v4" stroke="#777" stroke-width="1.5"/>
<text class="t" transform="translate(856.0,1173.4) scale(0.945,1)" text-anchor="middle">37.8</text>
<path d="M90.5 1024.9h-4" stroke="#777" stroke-width="1.5"/>
<text class="t" transform="translate(83.0,1033.2) scale(0.945,1)" text-anchor="end">55.60</text>
<path d="M90.5 868.6h-4" stroke="#777" stroke-width="1.5"/>
<text class="t" transform="translate(83.0,876.9) scale(0.945,1)" text-anchor="end">55.65</text>
<path d="M90.5 712.3h-4" stroke="#777" stroke-width="1.5"/>
<text class="t" transform="translate(83.0,720.6) scale(0.945,1)" text-anchor="end">55.70</text>
<path d="M90.5 555.9h-4" stroke="#777" stroke-width="1.5"/>
<text class="t" transform="translate(83.0,564.2) scale(0.945,1)" text-anchor="end">55.75</text>
<path d="M90.5 399.6h-4" stroke="#777" stroke-width="1.5"/>
<text class="t" transform="translate(83.0,407.9) scale(0.945,1)" text-anchor="end">55.80</text>
<path d="M90.5 243.3h-4" stroke="#777" stroke-width="1.5"/>
<text class="t" transform="translate(83.0,251.6) scale(0.945,1)" text-anchor="end">55.85</text>
<path d="M90.5 87.0h-4" stroke="#777" stroke-width="1.5"/>
<text class="t" transform="translate(83.0,95.3) scale(0.945,1)" text-anchor="end">55.90</text>
<rect x="1074.0" y="23.5" width="56.5" height="1126.0" fill="url(#jr)"/>
<path d="M1130.5 1148.0h3.5" stroke="#888" stroke-width="1.2"/>
<text class="t" transform="translate(1136.3,1156.3) scale(0.945,1)">24</text>
<path d="M1130.5 975.1h3.5" stroke="#888" stroke-width="1.2"/>
<text class="t" transform="translate(1136.3,983.4) scale(0.945,1)">26</text>
<path d="M1130.5 802.2h3.5" stroke="#888" stroke-width="1.2"/>
<text class="t" transform="translate(1136.3,810.5) scale(0.945,1)">28</text>
<path d="M1130.5 629.3h3.5" stroke="#888" stroke-width="1.2"/>
<text class="t" transform="translate(1136.3,637.6) scale(0.945,1)">30</text>
<path d="M1130.5 456.4h3.5" stroke="#888" stroke-width="1.2"/>
<text class="t" transform="translate(1136.3,464.7) scale(0.945,1)">32</text>
<path d="M1130.5 283.5h3.5" stroke="#888" stroke-width="1.2"/>
<text class="t" transform="translate(1136.3,291.8) scale(0.945,1)">34</text>
<path d="M1130.5 110.6h3.5" stroke="#888" stroke-width="1.2"/>
<text class="t" transform="translate(1136.3,118.9) scale(0.945,1)">36</text>
<g clip-path="url(#axb)">
<g clip-path="url(#cityb)" shape-rendering="auto">
<rect x="1328.4" y="52.6" width="858.0" height="1066.4" fill="#6bff8c"/>
<path d="M1350.2 130.2L1463.1 163.9L1496.8 202.5L1506.4 274.7L1350.2 274.7Z" fill="#00c7ff" stroke="#00c7ff" stroke-width="3" stroke-linejoin="round"/>
<path d="M1443.9 154.3L1449.9 171.6L1455.9 183.2L1467.9 195.2L1477.5 202.5L1482.4 226.6L1487.6 251.4L1492.0 274.7L1554.5 274.7L1554.5 154.3Z" fill="#008fff" stroke="#008fff" stroke-width="3" stroke-linejoin="round"/>
<path d="M1362.2 255.0L1377.1 255.5L1398.2 259.1L1419.9 262.7L1448.7 257.9L1487.6 251.4L1494.4 267.5L1504.0 283.2L1530.4 322.9L1362.2 322.9Z" fill="#008fff" stroke="#008fff" stroke-width="3" stroke-linejoin="round"/>
<path d="M1362.2 309.7L1380.2 309.7L1397.0 312.8L1411.4 309.7L1412.6 301.2L1430.7 298.8L1434.3 306.1L1458.3 301.7L1492.0 304.1L1496.8 296.4L1504.0 283.2L1554.5 283.2L1554.5 395.2L1362.2 395.2Z" fill="#42ffb5" stroke="#42ffb5" stroke-width="3" stroke-linejoin="round"/>
<path d="M1490.8 118.1L1490.8 162.0L1504.0 188.0L1517.2 210.9L1514.8 213.3L1528.0 235.0L1534.0 234.5L1547.2 251.9L1554.5 274.7L1626.6 274.7L1626.6 118.1Z" fill="#52ffa5" stroke="#52ffa5" stroke-width="3" stroke-linejoin="round"/>
<path d="M1513.6 118.1L1513.6 158.6L1554.5 192.8L1576.1 209.0L1602.5 241.0L1645.8 274.7L1674.6 274.7L1674.6 130.2Z" fill="#15ffe2" stroke="#15ffe2" stroke-width="3" stroke-linejoin="round"/>
<path d="M1504.0 283.2L1494.4 267.5L1504.0 262.7L1530.4 259.1L1547.2 251.9L1570.6 237.4L1562.9 223.7L1576.1 209.0L1597.7 224.1L1626.6 248.2L1645.8 263.9L1662.6 274.7L1626.6 310.9L1516.0 310.9L1507.6 286.8Z" fill="#73ff84" stroke="#73ff84" stroke-width="3" stroke-linejoin="round"/>
<path d="M1507.6 286.8L1520.8 285.6L1523.2 290.4L1544.8 292.8L1562.9 298.8L1602.5 298.8L1602.5 371.1L1531.1 371.1L1531.1 362.7L1534.0 347.0L1541.2 337.4L1537.6 329.0L1517.2 327.8L1511.7 320.5L1518.4 316.9L1513.6 308.5Z" fill="#b9ff3e" stroke="#b9ff3e" stroke-width="3" stroke-linejoin="round"/>
<path d="M1540.0 130.2L1544.8 133.8L1562.9 151.9L1572.5 144.6L1585.7 166.3L1602.5 190.4L1650.6 190.4L1650.6 69.9L1540.0 69.9Z" fill="#15ffe2" stroke="#15ffe2" stroke-width="3" stroke-linejoin="round"/>
<path d="M1613.3 82.0L1614.5 90.4L1618.2 101.3L1626.6 110.9L1638.6 118.6L1650.6 159.1L1722.7 159.1L1722.7 67.5L1613.3 67.5Z" fill="#000080" stroke="#000080" stroke-width="3" stroke-linejoin="round"/>
<path d="M1629.9 177.4L1609.7 182.0L1604.9 190.4L1602.5 190.4L1626.6 212.1L1655.4 243.4L1662.6 260.3L1674.6 263.2L1698.7 263.2L1698.7 177.4Z" fill="#15ffe2" stroke="#15ffe2" stroke-width="3" stroke-linejoin="round"/>
<path d="M1638.6 118.6L1655.4 126.6L1663.8 135.0L1666.2 149.5L1698.7 149.5L1698.7 265.1L1674.6 263.2L1669.6 246.6L1660.7 227.3L1659.5 214.5L1649.2 176.0L1629.9 177.4L1625.4 150.7L1637.4 147.0L1636.2 139.8Z" fill="#42ffb5" stroke="#42ffb5" stroke-width="3" stroke-linejoin="round"/>
<path d="M1666.2 149.5L1697.5 150.7L1720.3 150.7L1727.5 169.9L1696.3 185.6L1695.1 200.1L1672.7 202.5L1669.8 183.2Z" fill="#42ffb5" stroke="#42ffb5" stroke-width="3" stroke-linejoin="round"/>
<path d="M1350.2 321.7L1377.1 321.7L1386.2 324.1L1398.2 330.2L1409.0 347.0L1410.2 359.1L1417.5 371.1L1439.1 382.0L1448.7 380.8L1464.3 382.0L1482.4 408.4L1482.4 504.8L1314.1 504.8L1314.1 408.4Z" fill="#15ffe2" stroke="#15ffe2" stroke-width="3" stroke-linejoin="round"/>
<path d="M1531.6 362.7L1523.2 363.9L1506.4 371.1L1487.2 374.7L1470.3 371.1L1467.9 368.7L1464.3 382.0L1464.3 408.4L1463.6 424.1L1463.6 456.6L1602.5 456.6L1602.5 363.9Z" fill="#94ff63" stroke="#94ff63" stroke-width="3" stroke-linejoin="round"/>
<path d="M1531.6 362.7L1584.5 363.4L1626.6 363.4L1626.6 480.7L1559.3 480.7L1559.3 431.8L1556.9 421.7L1552.1 408.4Z" fill="#94ff63" stroke="#94ff63" stroke-width="3" stroke-linejoin="round"/>
<path d="M1399.4 480.7L1393.4 466.2L1395.8 456.6L1403.0 434.9L1412.6 432.5L1419.9 439.7L1427.1 447.0L1439.1 449.4L1451.1 442.2L1460.7 427.7L1463.6 424.1L1477.5 426.5L1479.9 432.5L1506.4 437.3L1542.4 443.4L1554.5 437.3L1559.3 431.8L1626.6 431.8L1626.6 601.2L1399.4 601.2Z" fill="#e6ff10" stroke="#e6ff10" stroke-width="3" stroke-linejoin="round"/>
<path d="M1314.1 492.7L1330.9 492.7L1338.1 490.3L1352.6 491.5L1362.2 494.0L1393.4 492.7L1399.4 480.7L1422.3 483.1L1443.9 484.3L1463.1 478.3L1472.7 477.1L1487.2 497.6L1494.4 514.4L1487.2 533.7L1467.9 548.2L1448.7 555.4L1448.7 601.2L1314.1 601.2Z" fill="#b5ff42" stroke="#b5ff42" stroke-width="3" stroke-linejoin="round"/>
<path d="M1314.1 480.7L1330.9 495.2L1423.5 571.1L1431.9 565.0L1439.1 577.1L1452.3 589.1L1451.1 596.4L1460.7 601.2L1464.3 624.1L1464.3 649.4L1314.1 649.4Z" fill="#63ff94" stroke="#63ff94" stroke-width="3" stroke-linejoin="round"/>
<path d="M1431.9 565.0L1439.1 556.6L1446.3 557.8L1448.7 565.0L1458.3 577.1L1470.3 583.1L1482.4 583.1L1496.8 574.7L1508.8 562.6L1513.6 548.2L1514.8 528.9L1514.8 512.0L1518.4 504.8L1530.4 502.4L1544.8 507.2L1566.5 524.1L1578.5 531.3L1602.5 531.3L1602.5 625.3L1482.4 625.3L1469.1 604.8L1460.7 601.2L1451.1 596.4L1452.3 589.1L1439.1 577.1Z" fill="#ff7100" stroke="#ff7100" stroke-width="3" stroke-linejoin="round"/>
<path d="M1460.7 601.2L1464.3 600.0L1472.7 593.9L1477.5 596.4L1513.6 581.9L1520.8 578.3L1537.6 604.8L1578.5 604.8L1578.5 721.6L1464.3 721.6L1464.3 624.1Z" fill="#b5ff42" stroke="#b5ff42" stroke-width="3" stroke-linejoin="round"/>
<path d="M1314.1 619.2L1350.2 619.2L1362.2 618.0L1374.2 622.9L1464.3 624.5L1470.3 649.4L1477.5 673.5L1477.5 787.4L1314.1 787.4Z" fill="#b5ff42" stroke="#b5ff42" stroke-width="3" stroke-linejoin="round"/>
<path d="M1391.0 709.6L1398.2 695.1L1417.5 685.5L1439.1 690.3L1458.3 680.7L1477.5 673.5L1494.4 668.6L1496.8 659.0L1506.4 656.6L1504.0 649.4L1513.6 643.3L1523.2 642.1L1535.2 649.4L1540.0 651.8L1554.5 651.8L1554.5 787.4L1362.2 787.4Z" fill="#efff08" stroke="#efff08" stroke-width="3" stroke-linejoin="round"/>
<path d="M1652.9 273.6L1646.4 278.7L1627.2 293.1L1612.8 305.2L1606.8 319.7L1606.8 338.9L1610.4 351.0L1610.4 363.0L1583.9 363.0L1587.5 357.0L1583.5 351.0L1585.1 346.2L1579.1 330.5L1565.9 313.6L1567.1 310.0L1562.8 298.9L1578.4 295.3L1580.8 286.9L1591.6 285.7Z" fill="#63ff94" stroke="#63ff94" stroke-width="3" stroke-linejoin="round"/>
<path d="M1583.9 363.0L1610.4 363.0L1620.0 367.8L1634.4 389.5L1646.4 406.4L1660.9 428.1L1675.3 435.3L1663.3 449.8L1634.4 432.9L1605.6 406.4L1586.3 398.0L1571.9 389.5Z" fill="#ffd900" stroke="#ffd900" stroke-width="3" stroke-linejoin="round"/>
<path d="M1645.7 264.0L1662.5 260.4L1675.3 262.8L1682.5 283.5L1677.7 306.4L1676.5 326.9L1680.1 348.6L1684.9 367.8L1692.1 384.7L1651.2 393.1L1634.4 389.5L1620.0 367.8L1610.4 351.0L1606.8 338.9L1606.8 319.7L1612.8 305.2L1627.2 293.1L1646.4 278.7L1652.9 273.6Z" fill="#63ff94" stroke="#63ff94" stroke-width="3" stroke-linejoin="round"/>
<path d="M1675.3 262.8L1699.3 273.9L1696.9 283.5L1686.1 295.6L1689.7 306.4L1704.1 307.6L1718.5 318.4L1723.3 353.4L1720.9 353.4L1677.7 306.4L1682.5 283.5Z" fill="#ffd900" stroke="#ffd900" stroke-width="3" stroke-linejoin="round"/>
<path d="M1677.7 306.4L1720.9 353.4L1740.2 377.5L1711.3 391.9L1712.5 406.4L1708.9 413.6L1698.1 429.3L1695.7 416.0L1692.1 384.7L1684.9 367.8L1680.1 348.6L1676.5 326.9Z" fill="#ffa500" stroke="#ffa500" stroke-width="3" stroke-linejoin="round"/>
<path d="M1634.4 389.5L1651.2 393.1L1692.1 384.7L1695.7 416.0L1698.1 429.3L1675.3 435.3L1660.9 428.1L1646.4 406.4Z" fill="#ffd900" stroke="#ffd900" stroke-width="3" stroke-linejoin="round"/>
<path d="M1699.3 273.9L1740.2 269.1L1752.2 247.4L1755.8 232.9L1761.8 247.4L1764.2 271.5L1779.8 272.7L1778.6 293.1L1772.6 295.6L1776.2 307.6L1800.3 319.7L1793.0 338.9L1785.8 351.0L1782.2 372.7L1779.8 396.8L1777.4 416.0L1740.2 377.5L1720.9 353.4L1723.3 353.4L1718.5 318.4L1704.1 307.6L1689.7 306.4L1686.1 295.6L1696.9 283.5Z" fill="#ffa500" stroke="#ffa500" stroke-width="3" stroke-linejoin="round"/>
<path d="M1779.8 272.7L1805.1 276.3L1826.7 285.9L1835.1 295.6L1837.5 319.7L1837.5 336.5L1824.3 329.3L1809.9 313.6L1802.7 322.1L1776.2 307.6L1772.6 295.6L1778.6 293.1Z" fill="#00bdff" stroke="#00bdff" stroke-width="3" stroke-linejoin="round"/>
<path d="M1809.9 313.6L1824.3 329.3L1837.5 336.5L1826.7 355.8L1817.1 377.5L1809.9 391.9L1805.1 406.4L1802.7 430.5L1787.0 428.1L1777.4 416.0L1779.8 396.8L1782.2 372.7L1785.8 351.0L1793.0 338.9L1802.7 322.1Z" fill="#ffd900" stroke="#ffd900" stroke-width="3" stroke-linejoin="round"/>
<path d="M1837.5 336.5L1850.7 348.6L1865.2 360.6L1874.8 372.7L1884.4 379.9L1888.0 391.9L1884.4 406.4L1894.0 425.7L1884.4 440.1L1884.4 460.6L1862.8 460.6L1819.5 444.9L1795.5 432.9L1787.0 428.1L1802.7 430.5L1805.1 406.4L1809.9 391.9L1817.1 377.5L1826.7 355.8Z" fill="#ff4200" stroke="#ff4200" stroke-width="3" stroke-linejoin="round"/>
<path d="M1711.3 391.9L1740.2 377.5L1777.4 416.0L1787.0 428.1L1747.4 429.3L1746.2 452.2L1737.8 457.0L1720.9 452.2L1718.5 430.5L1698.1 429.3L1708.9 413.6L1712.5 406.4Z" fill="#ffa500" stroke="#ffa500" stroke-width="3" stroke-linejoin="round"/>
<path d="M1747.4 429.3L1787.0 428.1L1789.4 442.5L1793.0 467.8L1787.0 469.0L1782.2 488.3L1773.8 490.7L1771.4 507.6L1766.6 526.9L1757.0 528.1L1754.6 512.4L1752.2 488.3L1747.4 464.2L1746.2 452.2Z" fill="#ff7600" stroke="#ff7600" stroke-width="3" stroke-linejoin="round"/>
<path d="M1787.0 428.1L1795.5 432.9L1819.5 444.9L1862.8 460.6L1853.1 473.9L1845.9 472.6L1826.7 488.3L1824.3 497.9L1805.1 500.4L1785.8 510.0L1766.6 526.9L1771.4 507.6L1773.8 490.7L1782.2 488.3L1787.0 469.0L1793.0 467.8L1789.4 442.5Z" fill="#ff7600" stroke="#ff7600" stroke-width="3" stroke-linejoin="round"/>
<path d="M1862.8 460.6L1884.4 460.6L1896.4 464.2L1903.6 473.9L1908.4 482.3L1886.8 500.4L1880.8 506.4L1874.8 500.4L1865.2 510.0L1860.3 522.0L1838.7 529.3L1841.1 546.1L1836.3 554.6L1809.9 543.7L1785.8 547.3L1776.2 543.7L1766.6 526.9L1785.8 510.0L1805.1 500.4L1824.3 497.9L1826.7 488.3L1845.9 472.6L1853.1 473.9Z" fill="#800000" stroke="#800000" stroke-width="3" stroke-linejoin="round"/>
<path d="M1908.4 482.3L1918.0 507.6L1915.6 524.5L1915.6 543.7L1920.4 553.4L1937.3 563.0L1944.5 570.2L1934.9 604.0L1922.8 601.6L1908.4 589.5L1901.2 575.0L1884.4 577.5L1877.2 563.0L1862.8 558.2L1836.3 554.6L1841.1 546.1L1838.7 529.3L1860.3 522.0L1865.2 510.0L1874.8 500.4L1880.8 506.4L1886.8 500.4Z" fill="#ff4200" stroke="#ff4200" stroke-width="3" stroke-linejoin="round"/>
<path d="M1559.2 432.2L1582.7 428.1L1586.3 398.0L1605.6 406.4L1634.4 432.9L1624.1 451.7L1626.5 456.5L1643.3 478.2L1619.3 490.2L1609.7 509.5L1590.4 524.0L1578.4 497.5L1568.8 475.8L1564.0 456.5L1561.6 434.8Z" fill="#ffa500" stroke="#ffa500" stroke-width="3" stroke-linejoin="round"/>
<path d="M1624.1 451.7L1636.1 434.8L1662.5 449.3L1674.6 432.4L1698.1 429.3L1696.9 452.2L1693.8 463.7L1679.4 480.6L1643.3 478.2L1626.5 456.5Z" fill="#ffd900" stroke="#ffd900" stroke-width="3" stroke-linejoin="round"/>
<path d="M1590.4 524.0L1609.7 509.5L1619.3 490.2L1643.3 478.2L1679.4 480.6L1689.7 485.9L1711.3 507.6L1723.3 517.2L1734.2 531.7L1730.6 541.3L1723.3 543.7L1698.6 538.4L1693.8 533.6L1674.6 550.5L1650.5 552.9L1614.5 572.2L1590.4 563.7L1585.6 548.1L1578.4 533.6Z" fill="#ffa500" stroke="#ffa500" stroke-width="3" stroke-linejoin="round"/>
<path d="M1698.1 429.3L1718.5 430.5L1720.9 452.2L1737.8 457.0L1747.4 464.2L1752.2 488.3L1754.6 512.4L1757.0 528.1L1766.6 526.9L1776.2 543.7L1772.6 558.2L1737.8 558.2L1740.2 546.1L1734.2 531.7L1723.3 517.2L1711.3 507.6L1689.7 485.9L1679.4 480.6L1693.8 463.7L1696.9 452.2Z" fill="#ffd900" stroke="#ffd900" stroke-width="3" stroke-linejoin="round"/>
<path d="M1674.6 550.5L1693.8 533.6L1698.6 538.4L1722.6 544.4L1732.2 538.4L1739.4 545.7L1734.6 557.7L1722.6 562.5L1698.6 567.3L1696.2 574.6L1691.4 569.7L1677.0 569.7L1677.0 562.5Z" fill="#ff4200" stroke="#ff4200" stroke-width="3" stroke-linejoin="round"/>
<path d="M1590.5 563.8L1614.5 572.3L1650.6 553.0L1674.6 550.6L1677.0 562.6L1673.0 584.8L1665.7 601.7L1634.5 618.5L1620.1 599.2L1554.5 634.9L1537.6 604.8L1552.1 601.2L1566.5 589.1L1578.5 572.3Z" fill="#ff7600" stroke="#ff7600" stroke-width="3" stroke-linejoin="round"/>
<path d="M1697.7 72.4L1697.7 151.6L1713.1 150.9L1720.8 156.7L1730.4 170.7L1743.9 163.2L1788.6 121.0L1788.6 82.0Z" fill="#00c2ff" stroke="#00c2ff" stroke-width="3" stroke-linejoin="round"/>
<path d="M1673.4 202.9L1695.3 201.7L1697.7 187.5L1729.7 170.9L1747.7 172.1L1750.1 192.8L1769.3 208.0L1775.8 224.9L1778.4 226.1L1789.9 217.2L1808.9 236.2L1823.3 241.0L1840.2 241.0L1839.0 257.9L1837.8 269.9L1825.7 286.8L1805.1 276.2L1779.8 272.6L1764.2 271.4L1762.1 236.2L1757.2 232.6L1753.6 235.0L1752.2 247.3L1740.2 269.1L1699.3 273.9L1675.3 262.8L1674.2 245.8L1676.6 221.7Z" fill="#b9ff3e" stroke="#b9ff3e" stroke-width="3" stroke-linejoin="round"/>
<path d="M1743.8 163.2L1751.5 155.5L1787.3 159.3L1780.8 174.8L1814.2 181.3L1816.6 190.2L1805.1 199.1L1798.8 210.7L1789.9 217.2L1778.4 226.1L1775.8 224.9L1769.3 208.0L1750.3 192.8L1747.6 172.1Z" fill="#42ffb5" stroke="#42ffb5" stroke-width="3" stroke-linejoin="round"/>
<path d="M1743.8 163.2L1788.5 121.0L1788.5 106.1L1864.2 106.1L1861.8 127.8L1854.6 147.0L1845.0 162.7L1818.5 166.3L1816.1 178.4L1814.2 181.3L1780.8 174.8L1787.3 159.3L1751.5 155.5Z" fill="#15ffe2" stroke="#15ffe2" stroke-width="3" stroke-linejoin="round"/>
<path d="M1818.5 166.3L1845.0 162.7L1851.0 178.4L1845.0 202.5L1855.8 216.9L1842.6 241.0L1840.2 241.0L1823.3 241.0L1808.9 236.2L1789.9 217.2L1798.8 210.7L1805.1 199.1L1816.6 190.2L1814.2 181.3L1816.1 178.4Z" fill="#15ffe2" stroke="#15ffe2" stroke-width="3" stroke-linejoin="round"/>
<path d="M1861.8 127.8L1861.8 106.1L1921.9 130.2L1919.5 155.5L1893.0 185.6L1857.0 224.1L1855.8 216.9L1845.0 202.5L1851.0 178.4L1845.0 162.7L1854.6 147.0Z" fill="#008fff" stroke="#008fff" stroke-width="3" stroke-linejoin="round"/>
<path d="M1941.1 176.0L2015.6 242.2L2020.4 337.4L2027.6 338.6L2026.4 344.6L1994.0 356.7L1962.8 378.3L1957.9 368.7L1945.9 354.3L1917.1 335.0L1883.4 315.7L1849.8 298.8L1840.2 294.0L1847.4 292.8L1849.8 284.4L1869.0 262.7L1871.4 248.2L1878.6 257.9L1883.4 265.1L1909.9 267.5L1919.5 257.9L1920.7 248.2L1914.7 229.0L1900.3 224.1L1897.9 216.9L1917.1 192.8L1926.7 190.4L1936.3 188.0Z" fill="#6bff8c" stroke="#6bff8c" stroke-width="3" stroke-linejoin="round"/>
<path d="M1919.5 155.5L1921.9 149.5L1941.1 149.5L1941.1 176.0L1936.3 188.0L1926.7 190.4L1917.1 192.8L1897.9 216.9L1900.3 224.1L1914.7 229.0L1920.7 248.2L1919.5 257.9L1909.9 267.5L1883.4 265.1L1878.6 257.9L1871.4 248.2L1869.0 262.7L1849.8 284.4L1847.4 292.8L1840.2 294.0L1825.7 286.8L1837.8 269.9L1839.0 257.9L1840.2 241.0L1842.6 241.0L1857.0 224.1L1893.0 185.6Z" fill="#0024ff" stroke="#0024ff" stroke-width="3" stroke-linejoin="round"/>
<path d="M1840.2 294.0L1849.8 298.8L1883.4 315.7L1917.1 335.0L1945.9 354.3L1957.9 368.7L1962.8 378.3L1933.9 380.8L1926.7 388.0L1897.9 398.8L1883.4 404.9L1888.2 390.4L1884.6 378.3L1876.2 373.5L1864.2 359.1L1852.2 349.4L1837.8 337.4L1836.6 298.8Z" fill="#ffa500" stroke="#ffa500" stroke-width="3" stroke-linejoin="round"/>
<path d="M2015.6 242.2L2133.4 347.0L2133.4 371.1L2120.2 372.3L2073.3 378.3L2013.2 384.4L1962.8 407.3L1962.8 378.3L1994.0 356.7L2026.4 344.6L2027.6 338.6L2020.4 337.4Z" fill="#e6ff10" stroke="#e6ff10" stroke-width="3" stroke-linejoin="round"/>
<path d="M1974.8 401.2L2013.2 380.8L2073.3 375.9L2120.2 368.7L2133.4 368.7L2133.4 397.6L2120.2 397.6Z" fill="#00c2ff" stroke="#00c2ff" stroke-width="3" stroke-linejoin="round"/>
<path d="M1884.6 404.8L1897.9 398.8L1926.7 387.9L1933.9 380.7L1962.8 378.3L1962.8 402.4L1960.3 427.7L1941.1 427.7L1931.5 439.7L1914.7 447.0L1895.5 456.6L1885.8 455.4L1883.4 442.2L1895.5 430.1L1888.2 418.1Z" fill="#ff7600" stroke="#ff7600" stroke-width="3" stroke-linejoin="round"/>
<path d="M1885.8 455.4L1895.5 456.6L1914.7 447.0L1931.5 439.7L1941.1 427.7L1960.3 427.7L1957.9 456.6L1962.8 500.0L1974.8 526.5L1919.5 549.4L1914.7 538.5L1919.5 512.0L1914.7 495.2L1907.5 480.7L1897.9 467.5L1888.2 462.6Z" fill="#ffa500" stroke="#ffa500" stroke-width="3" stroke-linejoin="round"/>
<path d="M1962.8 402.4L1974.8 400.7L2061.3 398.3L2061.3 427.7L2052.9 427.7L2052.9 504.8L2013.2 509.6L1974.8 526.5L1962.8 500.0L1957.9 456.6L1960.3 427.7Z" fill="#ffd900" stroke="#ffd900" stroke-width="3" stroke-linejoin="round"/>
<path d="M2061.3 398.3L2133.4 396.4L2133.4 557.8L2102.2 559.0L2094.9 553.0L2097.4 533.7L2068.5 526.5L2063.7 543.3L2052.9 504.8L2052.9 427.7L2061.3 427.7Z" fill="#b9ff3e" stroke="#b9ff3e" stroke-width="3" stroke-linejoin="round"/>
<path d="M1919.5 549.4L1974.8 526.5L2013.2 509.6L2052.9 504.8L2063.7 543.3L2030.1 553.0L2027.6 567.4L2022.8 577.1L2015.6 581.9L2008.4 596.4L1998.8 601.2L1989.2 596.4L1965.2 584.3L1955.5 574.7L1945.9 567.4L1929.1 560.2Z" fill="#e6ff10" stroke="#e6ff10" stroke-width="3" stroke-linejoin="round"/>
<path d="M2063.7 543.3L2068.5 526.5L2097.4 533.7L2094.9 553.0L2102.2 559.0L2008.4 597.6L2015.6 581.9L2022.8 577.1L2027.6 567.4L2030.1 553.0Z" fill="#e6ff10" stroke="#e6ff10" stroke-width="3" stroke-linejoin="round"/>
<path d="M1998.8 601.2L2102.2 559.0L2133.4 557.8L2133.4 649.4L2113.0 673.5L2049.3 639.7Z" fill="#6bff8c" stroke="#6bff8c" stroke-width="3" stroke-linejoin="round"/>
<path d="M1998.8 601.2L2049.3 639.7L2042.1 680.7L2020.4 675.9L2008.4 654.2L1965.2 673.5L1957.9 649.4L1950.7 630.1L1977.2 620.4L1989.2 610.8Z" fill="#ffd900" stroke="#ffd900" stroke-width="3" stroke-linejoin="round"/>
<path d="M2049.3 639.7L2113.0 673.5L2143.0 695.1L2169.5 709.6L2169.5 781.9L2107.0 750.6L2099.8 769.8L2092.5 765.0L2080.5 769.8L2066.1 777.1L2058.9 767.4L2061.3 745.7L2049.3 738.5L2037.3 740.9L2032.5 736.1L2037.3 709.6L2042.1 680.7Z" fill="#9cff5a" stroke="#9cff5a" stroke-width="3" stroke-linejoin="round"/>
<path d="M1881.0 579.5L1905.1 574.7L1909.9 591.5L1921.9 601.2L1933.9 603.6L1941.1 586.7L1945.9 567.4L1955.5 574.7L1965.2 584.3L1989.2 596.4L1998.8 601.2L1989.2 610.8L1977.2 620.4L1950.7 630.1L1914.7 639.7L1909.9 634.9L1890.6 644.5L1873.8 632.5L1854.6 620.4L1861.8 608.4L1873.8 615.6L1883.4 596.4Z" fill="#ffa500" stroke="#ffa500" stroke-width="3" stroke-linejoin="round"/>
<path d="M1914.7 639.7L1950.7 630.1L1957.9 649.4L1965.2 673.5L1962.8 680.7L1977.2 736.1L1941.1 726.5L1936.3 709.6L1933.9 668.6Z" fill="#ff7600" stroke="#ff7600" stroke-width="3" stroke-linejoin="round"/>
<path d="M1965.2 673.5L2008.4 654.2L2020.4 675.9L2042.1 680.7L2037.3 709.6L2032.5 736.1L2037.3 740.9L2049.3 738.5L2061.3 745.7L2058.9 762.6L2032.5 755.4L1989.2 738.5L1977.2 736.1L1962.8 680.7Z" fill="#ffa500" stroke="#ffa500" stroke-width="3" stroke-linejoin="round"/>
<path d="M1554.5 634.9L1620.1 599.2L1634.5 618.5L1624.2 625.3L1621.8 642.1L1629.0 659.0L1633.8 663.8L1578.5 719.2L1561.7 738.5L1554.5 740.9L1535.2 739.7L1532.8 755.4L1525.6 757.8L1516.0 745.7L1506.4 733.7L1499.2 719.2L1518.4 692.7L1535.2 671.0L1540.0 651.8L1549.7 634.9L1537.6 604.8Z" fill="#ffa500" stroke="#ffa500" stroke-width="3" stroke-linejoin="round"/>
<path d="M1634.4 618.6L1665.7 601.7L1672.9 584.9L1677.0 569.7L1691.4 569.7L1696.2 574.5L1698.6 567.3L1722.6 562.5L1734.6 557.7L1737.8 558.1L1772.6 558.1L1761.8 560.5L1760.6 597.9L1759.4 617.2L1752.2 619.6L1747.4 629.2L1748.6 643.7L1737.8 641.3L1735.4 644.9L1713.7 644.9L1706.5 648.5L1704.1 658.1L1696.9 667.8L1690.9 672.6L1680.1 662.9L1651.2 672.6L1628.9 659.1L1621.7 642.2L1624.1 625.4Z" fill="#ff4200" stroke="#ff4200" stroke-width="3" stroke-linejoin="round"/>
<path d="M1555.1 740.0L1561.6 738.6L1578.4 719.3L1632.0 664.1L1628.9 659.1L1646.2 673.5L1574.6 762.9L1568.3 759.3L1564.7 742.5Z" fill="#ffa500" stroke="#ffa500" stroke-width="3" stroke-linejoin="round"/>
<path d="M1646.2 673.5L1651.2 672.6L1680.1 662.9L1690.9 672.6L1699.3 683.4L1680.1 703.9L1660.9 728.0L1641.6 752.1L1632.0 759.3L1603.2 735.2L1574.6 762.9Z" fill="#ff7600" stroke="#ff7600" stroke-width="3" stroke-linejoin="round"/>
<path d="M1772.6 558.1L1776.2 543.7L1785.8 547.3L1809.9 543.7L1836.3 554.5L1862.8 558.1L1877.2 563.0L1884.4 577.4L1884.4 594.3L1874.8 618.4L1865.2 608.7L1855.5 623.2L1853.1 620.8L1836.3 624.4L1831.5 609.9L1820.7 611.1L1805.1 596.7L1793.0 570.2L1781.0 560.5Z" fill="#c50000" stroke="#c50000" stroke-width="3" stroke-linejoin="round"/>
<path d="M1761.8 560.5L1772.6 558.1L1781.0 560.5L1793.0 570.2L1805.1 596.7L1820.7 611.1L1821.9 612.3L1826.7 646.1L1831.5 694.3L1831.5 703.9L1826.7 744.9L1776.2 749.7L1769.0 730.4L1757.0 732.8L1737.8 736.4L1723.3 729.2L1699.3 683.4L1690.9 672.6L1696.9 667.8L1704.1 658.1L1706.5 648.5L1713.7 644.9L1735.4 644.9L1737.8 641.3L1748.6 643.7L1747.4 629.2L1752.2 619.6L1759.4 617.2L1760.6 597.9Z" fill="#ff4200" stroke="#ff4200" stroke-width="3" stroke-linejoin="round"/>
<path d="M1690.9 672.6L1696.9 667.8L1704.1 658.1L1706.5 648.5L1713.7 644.9L1735.4 644.9L1737.8 641.3L1745.0 643.7L1754.6 665.4L1766.6 689.4L1769.0 730.4L1757.0 732.8L1737.8 736.4L1723.3 729.2L1699.3 683.4Z" fill="#ff7600" stroke="#ff7600" stroke-width="3" stroke-linejoin="round"/>
<path d="M1761.8 560.5L1772.6 558.1L1781.0 560.5L1793.0 570.2L1805.1 596.7L1795.5 619.6L1783.4 636.4L1747.4 641.3L1747.4 629.2L1752.2 619.6L1759.4 617.2L1760.6 597.9Z" fill="#ff1300" stroke="#ff1300" stroke-width="3" stroke-linejoin="round"/>
<path d="M1641.6 752.1L1660.9 728.0L1680.1 703.9L1699.3 683.4L1723.3 729.2L1720.9 732.8L1699.3 761.7L1687.3 771.4L1684.9 783.4Z" fill="#ffa500" stroke="#ffa500" stroke-width="3" stroke-linejoin="round"/>
<path d="M1687.3 771.4L1699.3 761.7L1720.9 732.8L1723.3 729.2L1728.2 736.4L1730.6 749.7L1742.6 754.5L1735.4 771.4L1730.6 785.8L1735.4 805.1L1733.0 809.9L1713.7 805.1L1687.3 806.3L1694.5 790.6L1684.9 783.4Z" fill="#ffa500" stroke="#ffa500" stroke-width="3" stroke-linejoin="round"/>
<path d="M1820.7 611.1L1831.5 609.9L1836.3 624.4L1853.1 620.8L1884.4 642.5L1851.9 660.5L1862.8 684.6L1870.0 687.0L1860.3 711.1L1831.5 703.9L1831.5 694.3L1826.7 646.1L1821.9 612.3Z" fill="#ff1300" stroke="#ff1300" stroke-width="3" stroke-linejoin="round"/>
<path d="M1831.5 703.9L1860.3 711.1L1896.4 723.2L1903.6 735.2L1906.0 754.5L1891.6 771.4L1862.8 788.2L1845.9 797.9L1841.1 814.7L1836.3 836.4L1819.5 850.9L1809.9 838.8L1809.9 824.4L1819.5 802.7L1826.7 766.5L1826.7 744.9Z" fill="#ffd900" stroke="#ffd900" stroke-width="3" stroke-linejoin="round"/>
<path d="M1757.0 732.8L1769.0 730.4L1776.2 749.7L1826.7 744.9L1826.7 766.5L1819.5 802.7L1809.9 824.4L1809.9 838.8L1819.5 850.9L1790.6 829.2L1781.0 836.4L1771.4 832.8L1757.0 831.6L1759.4 797.9L1763.0 785.8L1759.4 754.5Z" fill="#ffa500" stroke="#ffa500" stroke-width="3" stroke-linejoin="round"/>
<path d="M1728.2 736.4L1737.8 736.4L1757.0 732.8L1759.4 754.5L1763.0 785.8L1759.4 797.9L1757.0 831.6L1759.4 862.9L1759.4 878.6L1728.2 877.4L1728.2 829.2L1740.2 812.3L1735.4 805.1L1730.6 785.8L1735.4 771.4L1742.6 754.5L1730.6 749.7Z" fill="#e6ff10" stroke="#e6ff10" stroke-width="3" stroke-linejoin="round"/>
<path d="M1658.4 853.3L1670.5 838.8L1687.3 806.3L1713.7 805.1L1733.0 809.9L1740.2 812.3L1728.2 829.2L1728.2 877.4L1684.9 864.1Z" fill="#ffd900" stroke="#ffd900" stroke-width="3" stroke-linejoin="round"/>
<path d="M1684.9 864.1L1728.2 877.4L1759.4 878.6L1764.2 899.1L1769.0 935.2L1742.6 937.6L1699.3 928.0L1692.1 918.3L1695.7 908.7L1682.5 901.5L1689.7 875.0Z" fill="#9cff5a" stroke="#9cff5a" stroke-width="3" stroke-linejoin="round"/>
<path d="M1851.9 660.5L1884.4 642.5L1910.8 636.4L1915.6 640.1L1932.5 667.8L1937.3 706.3L1942.1 730.4L1943.5 745.8L1938.7 774.3L1934.9 781.0L1925.2 809.9L1903.6 831.6L1874.8 870.2L1855.5 853.3L1843.5 841.2L1839.9 829.2L1841.1 814.7L1845.9 797.9L1862.8 788.2L1891.6 771.4L1906.0 754.5L1903.6 735.2L1896.4 723.2L1860.3 711.1L1870.0 687.0L1862.8 684.6Z" fill="#ff4200" stroke="#ff4200" stroke-width="3" stroke-linejoin="round"/>
<path d="M1757.0 831.6L1771.4 832.8L1781.0 836.4L1790.6 829.2L1819.5 850.9L1836.3 836.4L1839.9 829.2L1843.5 841.2L1855.5 853.3L1874.8 870.2L1865.2 894.2L1862.8 894.2L1785.8 887.0L1759.4 878.6Z" fill="#9cff5a" stroke="#9cff5a" stroke-width="3" stroke-linejoin="round"/>
<path d="M1759.4 878.6L1785.8 887.0L1862.8 894.2L1865.2 894.2L1860.3 908.7L1838.7 940.0L1788.2 968.9L1776.2 935.2L1769.0 935.2L1764.2 899.1Z" fill="#9cff5a" stroke="#9cff5a" stroke-width="3" stroke-linejoin="round"/>
<path d="M1941.1 726.4L1977.2 736.1L1989.2 738.5L2032.5 755.3L2058.9 762.6L2066.1 777.0L2080.5 769.8L2092.5 765.0L2099.8 769.8L2107.0 750.5L2110.6 773.4L2120.2 807.1L2126.2 830.0L2030.1 828.8L2025.2 816.8L2013.2 803.5L1991.6 797.5L1972.4 802.3L1929.1 831.2L1919.5 822.8L1907.5 828.8L1902.7 831.2L1926.7 799.9L1938.7 758.9L1943.5 745.7Z" fill="#e6ff10" stroke="#e6ff10" stroke-width="3" stroke-linejoin="round"/>
<path d="M1874.8 870.3L1883.4 860.1L1907.5 828.8L1919.5 822.8L1929.1 831.2L1972.4 802.3L1991.6 797.5L2013.2 803.5L2025.2 816.8L2030.1 828.8L2025.2 855.3L1989.2 869.8L1965.2 881.8L1933.9 880.6L1905.1 881.8L1883.4 875.8Z" fill="#9cff5a" stroke="#9cff5a" stroke-width="3" stroke-linejoin="round"/>
<path d="M1865.2 894.3L1874.8 870.3L1883.4 875.8L1905.1 881.8L1933.9 880.6L1933.9 909.5L1893.0 910.7L1869.0 915.6Z" fill="#9cff5a" stroke="#9cff5a" stroke-width="3" stroke-linejoin="round"/>
<path d="M2030.1 828.8L2119.0 830.0L2133.4 831.2L2133.4 855.3L2040.9 932.4L2030.1 913.1L2026.4 884.2L2027.6 862.5L2025.2 855.3Z" fill="#6bff8c" stroke="#6bff8c" stroke-width="3" stroke-linejoin="round"/>
<path d="M1933.9 880.6L1965.2 881.8L1989.2 869.8L2025.2 855.3L2027.6 862.5L2026.4 884.2L2030.1 913.1L2040.9 932.4L2025.2 948.1L2013.2 944.5L1977.2 966.1L1938.7 966.1L1936.3 961.3L1931.5 927.6L1933.9 909.5Z" fill="#42ffb5" stroke="#42ffb5" stroke-width="3" stroke-linejoin="round"/>
<path d="M1878.6 983.0L1893.0 973.4L1936.3 961.3L1938.7 966.1L1977.2 966.1L2013.2 944.5L2025.2 948.1L2037.3 951.7L1926.7 1048.1L1917.1 1014.3L1902.7 1004.7L1890.6 999.9Z" fill="#15ffe2" stroke="#15ffe2" stroke-width="3" stroke-linejoin="round"/>
<path d="M1865.2 894.3L1869.0 915.6L1893.0 910.7L1933.9 909.5L1931.5 927.6L1936.3 961.3L1893.0 973.4L1878.6 983.0L1861.8 971.0L1849.8 951.7L1852.2 937.2L1845.0 934.8L1860.4 908.8Z" fill="#6bff8c" stroke="#6bff8c" stroke-width="3" stroke-linejoin="round"/>
<path d="M1787.3 971.0L1820.9 958.9L1838.7 940.1L1845.0 934.8L1852.2 937.2L1849.8 951.7L1861.8 971.0L1878.6 983.0L1890.6 999.9L1902.7 1004.7L1917.1 1014.3L1926.7 1032.4L1926.7 1060.1L1869.0 1096.3L1825.7 1096.3L1820.9 1060.1L1816.1 1036.0L1804.1 999.9L1792.1 975.8Z" fill="#008fff" stroke="#008fff" stroke-width="3" stroke-linejoin="round"/>
<path d="M1787.3 971.0L1792.1 975.8L1804.1 999.9L1816.1 1036.0L1820.9 1060.1L1825.7 1096.3L1744.3 1096.3L1742.8 1048.1L1744.3 1024.0L1753.6 1009.5L1772.9 987.3Z" fill="#0000a2" stroke="#0000a2" stroke-width="3" stroke-linejoin="round"/>
<path d="M1413.9 754.1L1508.8 754.1L1506.4 758.9L1479.9 783.0L1458.3 799.9L1441.5 816.8L1422.3 807.1L1405.4 758.9Z" fill="#efff08" stroke="#efff08" stroke-width="3" stroke-linejoin="round"/>
<path d="M1441.5 816.8L1458.3 799.9L1479.9 783.0L1506.4 758.9L1511.2 766.2L1518.4 771.0L1525.6 790.3L1544.8 795.1L1554.5 804.7L1564.1 815.6L1523.2 855.3L1482.4 889.0L1458.3 879.4L1422.3 819.2Z" fill="#9cff5a" stroke="#9cff5a" stroke-width="3" stroke-linejoin="round"/>
<path d="M1508.8 762.6L1518.4 745.7L1525.6 757.7L1532.8 755.3L1535.2 739.7L1554.5 740.9L1564.1 745.7L1568.9 762.6L1592.9 783.0L1564.1 815.6L1554.5 804.7L1544.8 795.1L1525.6 790.3L1518.4 771.0L1511.2 766.2Z" fill="#ffd900" stroke="#ffd900" stroke-width="3" stroke-linejoin="round"/>
<path d="M1523.2 855.3L1564.1 815.6L1592.9 783.0L1574.4 764.2L1603.3 735.3L1632.1 759.4L1644.1 790.7L1620.1 834.1L1593.6 831.7L1588.8 835.3L1574.4 858.2L1569.6 853.4L1552.1 877.0Z" fill="#ffd900" stroke="#ffd900" stroke-width="3" stroke-linejoin="round"/>
<path d="M1574.3 764.1L1603.2 735.2L1632.0 759.3L1624.8 783.4L1621.2 797.9L1605.6 797.9L1593.6 783.4Z" fill="#ff7600" stroke="#ff7600" stroke-width="3" stroke-linejoin="round"/>
<path d="M1632.0 759.3L1641.6 752.1L1684.9 783.4L1694.5 790.6L1670.5 838.8L1658.4 853.3L1620.0 834.0L1644.0 790.6Z" fill="#ff7600" stroke="#ff7600" stroke-width="3" stroke-linejoin="round"/>
<path d="M1552.1 877.0L1569.6 853.4L1574.4 858.2L1588.8 835.3L1593.6 831.7L1620.1 834.1L1658.5 853.4L1653.0 867.4L1633.8 879.4L1624.2 893.9L1619.4 915.6L1609.7 922.8L1592.9 930.0L1574.9 925.2L1585.7 898.7Z" fill="#ffd900" stroke="#ffd900" stroke-width="3" stroke-linejoin="round"/>
<path d="M1482.4 889.0L1523.2 855.3L1552.1 877.0L1585.7 898.7L1574.9 925.2L1554.5 951.7L1537.6 971.0L1525.6 966.1L1501.6 927.6Z" fill="#15ffe2" stroke="#15ffe2" stroke-width="3" stroke-linejoin="round"/>
<path d="M1537.6 971.0L1554.5 951.7L1574.9 925.2L1592.9 930.0L1609.7 922.8L1619.4 915.6L1624.2 893.9L1633.8 879.4L1653.0 867.4L1658.5 853.4L1684.3 862.5L1689.1 879.4L1681.9 901.1L1696.3 908.3L1689.1 925.2L1679.4 939.6L1681.9 951.7L1677.0 975.8L1669.8 978.2L1681.9 987.8L1689.1 985.4L1681.9 1002.3L1684.3 1009.5L1679.4 1043.2L1674.6 1057.7L1650.6 1072.2L1530.4 999.9Z" fill="#00c2ff" stroke="#00c2ff" stroke-width="3" stroke-linejoin="round"/>
<path d="M1681.9 987.8L1698.7 983.0L1729.9 990.2L1734.7 972.2L1758.3 978.2L1772.9 986.6L1753.7 1009.5L1744.3 1024.0L1742.9 1048.1L1744.3 1096.3L1710.7 1108.3L1674.6 1057.7L1679.4 1043.2L1684.3 1009.5L1681.9 1002.3L1689.1 985.4Z" fill="#0024ff" stroke="#0024ff" stroke-width="3" stroke-linejoin="round"/>
<path d="M1669.8 978.2L1677.0 975.8L1681.9 951.7L1679.4 939.6L1689.1 925.2L1692.2 918.4L1699.4 928.1L1742.7 937.7L1770.5 936.0L1776.3 935.3L1787.4 969.8L1772.9 986.6L1758.3 978.2L1734.7 972.2L1729.9 990.2L1698.7 983.0L1681.9 987.8Z" fill="#6bff8c" stroke="#6bff8c" stroke-width="3" stroke-linejoin="round"/>
<path d="M1338.1 368.7L1357.4 368.7L1365.8 378.3L1365.8 383.2L1355.0 383.2L1342.9 401.2L1338.1 401.2Z" fill="#7bff7b" stroke="#7bff7b" stroke-width="3" stroke-linejoin="round"/>
<path d="M1326.1 436.1L1338.1 436.1L1339.3 440.9L1334.5 448.2L1326.1 449.4Z" fill="#7bff7b" stroke="#7bff7b" stroke-width="3" stroke-linejoin="round"/>
</g>
<path class="g" d="M1386.4 52.6V1119.0M1552.9 52.6V1119.0M1719.3 52.6V1119.0M1885.8 52.6V1119.0M2052.2 52.6V1119.0M1328.4 1000.4H2186.4M1328.4 852.3H2186.4M1328.4 704.2H2186.4M1328.4 556.2H2186.4M1328.4 408.1H2186.4M1328.4 260.0H2186.4M1328.4 111.9H2186.4"/>
</g>
<rect x="1328.4" y="52.6" width="858.0" height="1066.4" fill="none" stroke="#a4a4a4" stroke-width="1.9"/>
<path d="M1386.4 1119.0v4" stroke="#777" stroke-width="1.5"/>
<text class="t" transform="translate(1386.4,1142.9) scale(0.945,1)" text-anchor="middle">37.4</text>
<path d="M1552.9 1119.0v4" stroke="#777" stroke-width="1.5"/>
<text class="t" transform="translate(1552.9,1142.9) scale(0.945,1)" text-anchor="middle">37.5</text>
<path d="M1719.3 1119.0v4" stroke="#777" stroke-width="1.5"/>
<text class="t" transform="translate(1719.3,1142.9) scale(0.945,1)" text-anchor="middle">37.6</text>
<path d="M1885.8 1119.0v4" stroke="#777" stroke-width="1.5"/>
<text class="t" transform="translate(1885.8,1142.9) scale(0.945,1)" text-anchor="middle">37.7</text>
<path d="M2052.2 1119.0v4" stroke="#777" stroke-width="1.5"/>
<text class="t" transform="translate(2052.2,1142.9) scale(0.945,1)" text-anchor="middle">37.8</text>
<path d="M1328.4 1000.4h-4" stroke="#777" stroke-width="1.5"/>
<text class="t" transform="translate(1320.9,1008.7) scale(0.945,1)" text-anchor="end">55.60</text>
<path d="M1328.4 852.3h-4" stroke="#777" stroke-width="1.5"/>
<text class="t" transform="translate(1320.9,860.6) scale(0.945,1)" text-anchor="end">55.65</text>
<path d="M1328.4 704.2h-4" stroke="#777" stroke-width="1.5"/>
<text class="t" transform="translate(1320.9,712.5) scale(0.945,1)" text-anchor="end">55.70</text>
<path d="M1328.4 556.2h-4" stroke="#777" stroke-width="1.5"/>
<text class="t" transform="translate(1320.9,564.5) scale(0.945,1)" text-anchor="end">55.75</text>
<path d="M1328.4 408.1h-4" stroke="#777" stroke-width="1.5"/>
<text class="t" transform="translate(1320.9,416.4) scale(0.945,1)" text-anchor="end">55.80</text>
<path d="M1328.4 260.0h-4" stroke="#777" stroke-width="1.5"/>
<text class="t" transform="translate(1320.9,268.3) scale(0.945,1)" text-anchor="end">55.85</text>
<path d="M1328.4 111.9h-4" stroke="#777" stroke-width="1.5"/>
<text class="t" transform="translate(1320.9,120.2) scale(0.945,1)" text-anchor="end">55.90</text>
<rect x="2260.0" y="52.6" width="53.0" height="1066.4" fill="url(#jr)"/>
<path d="M2313.0 1091.0h3.5" stroke="#888" stroke-width="1.2"/>
<text class="t" transform="translate(2318.8,1099.3) scale(0.945,1)">17</text>
<path d="M2313.0 950.7h3.5" stroke="#888" stroke-width="1.2"/>
<text class="t" transform="translate(2318.8,959.0) scale(0.945,1)">20</text>
<path d="M2313.0 810.5h3.5" stroke="#888" stroke-width="1.2"/>
<text class="t" transform="translate(2318.8,818.8) scale(0.945,1)">22</text>
<path d="M2313.0 670.2h3.5" stroke="#888" stroke-width="1.2"/>
<text class="t" transform="translate(2318.8,678.5) scale(0.945,1)">25</text>
<path d="M2313.0 530.0h3.5" stroke="#888" stroke-width="1.2"/>
<text class="t" transform="translate(2318.8,538.3) scale(0.945,1)">27</text>
<path d="M2313.0 389.7h3.5" stroke="#888" stroke-width="1.2"/>
<text class="t" transform="translate(2318.8,398.0) scale(0.945,1)">30</text>
<path d="M2313.0 249.5h3.5" stroke="#888" stroke-width="1.2"/>
<text class="t" transform="translate(2318.8,257.8) scale(0.945,1)">32</text>
<path d="M2313.0 109.3h3.5" stroke="#888" stroke-width="1.2"/>
<text class="t" transform="translate(2318.8,117.6) scale(0.945,1)">35</text>
<g clip-path="url(#axc)">
<g clip-path="url(#cityc)" shape-rendering="auto">
<rect x="694.6" y="1303.0" width="876.4" height="1086.5" fill="#ffd900"/>
<path d="M717.3 1381.6L832.6 1416.0L867.0 1455.3L876.8 1529.0L717.3 1529.0Z" fill="#0080ff" stroke="#0080ff" stroke-width="3" stroke-linejoin="round"/>
<path d="M813.0 1406.2L819.1 1423.9L825.3 1435.7L837.6 1448.0L847.4 1455.3L852.3 1479.9L857.7 1505.2L862.1 1529.0L925.9 1529.0L925.9 1406.2Z" fill="#0033ff" stroke="#0033ff" stroke-width="3" stroke-linejoin="round"/>
<path d="M729.6 1508.9L744.8 1509.4L766.4 1513.1L788.5 1516.8L817.9 1511.8L857.7 1505.2L864.6 1521.7L874.4 1537.6L901.4 1578.2L729.6 1578.2Z" fill="#0033ff" stroke="#0033ff" stroke-width="3" stroke-linejoin="round"/>
<path d="M729.6 1564.7L748.0 1564.7L765.2 1567.8L779.9 1564.7L781.1 1556.1L799.5 1553.6L803.2 1561.0L827.7 1556.5L862.1 1559.0L867.0 1551.1L874.4 1537.6L925.9 1537.6L925.9 1651.9L729.6 1651.9Z" fill="#15ffe2" stroke="#15ffe2" stroke-width="3" stroke-linejoin="round"/>
<path d="M860.9 1369.4L860.9 1414.1L874.4 1440.6L887.9 1463.9L885.4 1466.4L898.9 1488.5L905.1 1488.0L918.6 1505.7L925.9 1529.0L999.6 1529.0L999.6 1369.4Z" fill="#a9ff4e" stroke="#a9ff4e" stroke-width="3" stroke-linejoin="round"/>
<path d="M884.2 1369.4L884.2 1410.6L925.9 1445.5L948.0 1462.0L975.0 1494.6L1019.2 1529.0L1048.6 1529.0L1048.6 1381.6Z" fill="#88ff6f" stroke="#88ff6f" stroke-width="3" stroke-linejoin="round"/>
<path d="M874.4 1537.6L864.6 1521.7L874.4 1516.8L901.4 1513.1L918.6 1505.7L942.4 1491.0L934.5 1477.0L948.0 1462.0L970.1 1477.4L999.6 1502.0L1019.2 1518.0L1036.4 1529.0L999.6 1565.9L886.6 1565.9L878.1 1541.3Z" fill="#e2ff15" stroke="#e2ff15" stroke-width="3" stroke-linejoin="round"/>
<path d="M878.1 1541.3L891.6 1540.1L894.0 1545.0L916.1 1547.5L934.5 1553.6L975.0 1553.6L975.0 1627.3L902.1 1627.3L902.1 1618.7L905.1 1602.7L912.4 1592.9L908.7 1584.3L887.9 1583.1L882.2 1575.7L889.1 1572.0L884.2 1563.4Z" fill="#deff19" stroke="#deff19" stroke-width="3" stroke-linejoin="round"/>
<path d="M911.2 1381.6L916.1 1385.3L934.5 1403.7L944.3 1396.4L957.8 1418.5L975.0 1443.1L1024.1 1443.1L1024.1 1320.2L911.2 1320.2Z" fill="#15ffe2" stroke="#15ffe2" stroke-width="3" stroke-linejoin="round"/>
<path d="M986.1 1332.5L987.3 1341.1L991.0 1352.2L999.6 1362.0L1011.8 1369.8L1024.1 1411.1L1097.7 1411.1L1097.7 1317.8L986.1 1317.8Z" fill="#000080" stroke="#000080" stroke-width="3" stroke-linejoin="round"/>
<path d="M1003.0 1429.8L982.4 1434.5L977.5 1443.1L975.0 1443.1L999.6 1465.2L1029.0 1497.1L1036.4 1514.3L1048.6 1517.2L1073.2 1517.2L1073.2 1429.8Z" fill="#adff4a" stroke="#adff4a" stroke-width="3" stroke-linejoin="round"/>
<path d="M1011.8 1369.8L1029.0 1378.0L1037.6 1386.6L1040.1 1401.3L1073.2 1401.3L1073.2 1519.2L1048.6 1517.2L1043.5 1500.3L1034.4 1480.6L1033.2 1467.6L1022.6 1428.3L1003.0 1429.8L998.3 1402.5L1010.6 1398.8L1009.4 1391.5Z" fill="#adff4a" stroke="#adff4a" stroke-width="3" stroke-linejoin="round"/>
<path d="M1040.1 1401.3L1072.0 1402.5L1095.3 1402.5L1102.6 1422.2L1070.7 1438.1L1069.5 1452.9L1046.7 1455.3L1043.7 1435.7Z" fill="#adff4a" stroke="#adff4a" stroke-width="3" stroke-linejoin="round"/>
<path d="M717.3 1576.9L744.8 1576.9L754.1 1579.4L766.4 1585.5L777.4 1602.7L778.7 1615.0L786.0 1627.3L808.1 1638.4L817.9 1637.1L833.9 1638.4L852.3 1665.3L852.3 1763.6L680.5 1763.6L680.5 1665.3Z" fill="#0080ff" stroke="#0080ff" stroke-width="3" stroke-linejoin="round"/>
<path d="M902.6 1618.7L894.0 1619.9L876.8 1627.3L857.2 1631.0L840.0 1627.3L837.6 1624.8L833.9 1638.4L833.9 1665.3L833.1 1681.3L833.1 1714.5L975.0 1714.5L975.0 1619.9Z" fill="#52ffa5" stroke="#52ffa5" stroke-width="3" stroke-linejoin="round"/>
<path d="M902.6 1618.7L956.6 1619.4L999.6 1619.4L999.6 1739.0L930.8 1739.0L930.8 1689.2L928.4 1678.8L923.5 1665.3Z" fill="#7bff7b" stroke="#7bff7b" stroke-width="3" stroke-linejoin="round"/>
<path d="M767.6 1739.0L761.5 1724.3L763.9 1714.5L771.3 1692.3L781.1 1689.9L788.5 1697.3L795.8 1704.6L808.1 1707.1L820.4 1699.7L830.2 1685.0L833.1 1681.3L847.4 1683.8L849.8 1689.9L876.8 1694.8L913.6 1700.9L925.9 1694.8L930.8 1689.2L999.6 1689.2L999.6 1861.9L767.6 1861.9Z" fill="#7bff7b" stroke="#7bff7b" stroke-width="3" stroke-linejoin="round"/>
<path d="M680.5 1751.3L697.7 1751.3L705.0 1748.9L719.7 1750.1L729.6 1752.5L761.5 1751.3L767.6 1739.0L790.9 1741.5L813.0 1742.7L832.6 1736.6L842.5 1735.3L857.2 1756.2L864.6 1773.4L857.2 1793.1L837.6 1807.8L817.9 1815.2L817.9 1861.9L680.5 1861.9Z" fill="#15ffe2" stroke="#15ffe2" stroke-width="3" stroke-linejoin="round"/>
<path d="M680.5 1739.0L697.7 1753.8L792.2 1831.1L800.7 1825.0L808.1 1837.3L821.6 1849.6L820.4 1856.9L830.2 1861.9L833.9 1885.2L833.9 1911.0L680.5 1911.0Z" fill="#0080ff" stroke="#0080ff" stroke-width="3" stroke-linejoin="round"/>
<path d="M800.7 1825.0L808.1 1816.4L815.5 1817.6L817.9 1825.0L827.7 1837.3L840.0 1843.4L852.3 1843.4L867.0 1834.8L879.3 1822.5L884.2 1807.8L885.4 1788.2L885.4 1771.0L889.1 1763.6L901.4 1761.1L916.1 1766.0L938.2 1783.2L950.5 1790.6L975.0 1790.6L975.0 1886.4L852.3 1886.4L838.8 1865.5L830.2 1861.9L820.4 1856.9L821.6 1849.6L808.1 1837.3Z" fill="#ffa100" stroke="#ffa100" stroke-width="3" stroke-linejoin="round"/>
<path d="M830.2 1861.9L833.9 1860.6L842.5 1854.5L847.4 1856.9L884.2 1842.2L891.6 1838.5L908.7 1865.5L950.5 1865.5L950.5 1984.7L833.9 1984.7L833.9 1885.2Z" fill="#52ffa5" stroke="#52ffa5" stroke-width="3" stroke-linejoin="round"/>
<path d="M680.5 1880.3L717.3 1880.3L729.6 1879.0L741.8 1884.0L833.9 1885.7L840.0 1911.0L847.4 1935.6L847.4 2051.7L680.5 2051.7Z" fill="#15ffe2" stroke="#15ffe2" stroke-width="3" stroke-linejoin="round"/>
<path d="M759.0 1972.4L766.4 1957.7L786.0 1947.8L808.1 1952.7L827.7 1942.9L847.4 1935.6L864.6 1930.6L867.0 1920.8L876.8 1918.4L874.4 1911.0L884.2 1904.8L894.0 1903.6L906.3 1911.0L911.2 1913.4L925.9 1913.4L925.9 2051.7L729.6 2051.7Z" fill="#7bff7b" stroke="#7bff7b" stroke-width="3" stroke-linejoin="round"/>
<path d="M1026.5 1527.9L1019.8 1533.1L1000.2 1547.8L985.5 1560.1L979.3 1574.8L979.3 1594.5L983.0 1606.8L983.0 1619.0L956.0 1619.0L959.7 1612.9L955.5 1606.8L957.2 1601.8L951.1 1585.9L937.6 1568.7L938.8 1565.0L934.4 1553.7L950.4 1550.0L952.8 1541.4L963.9 1540.2Z" fill="#a9ff4e" stroke="#a9ff4e" stroke-width="3" stroke-linejoin="round"/>
<path d="M956.0 1619.0L983.0 1619.0L992.8 1624.0L1007.6 1646.1L1019.8 1663.3L1034.6 1685.4L1049.3 1692.7L1037.0 1707.5L1007.6 1690.3L978.1 1663.3L958.5 1654.7L943.7 1646.1Z" fill="#ff6800" stroke="#ff6800" stroke-width="3" stroke-linejoin="round"/>
<path d="M1019.1 1518.1L1036.3 1514.4L1049.3 1516.8L1056.7 1538.0L1051.7 1561.3L1050.5 1582.2L1054.2 1604.3L1059.1 1624.0L1066.5 1641.1L1024.7 1649.7L1007.6 1646.1L992.8 1624.0L983.0 1606.8L979.3 1594.5L979.3 1574.8L985.5 1560.1L1000.2 1547.8L1019.8 1533.1L1026.5 1527.9Z" fill="#ffd900" stroke="#ffd900" stroke-width="3" stroke-linejoin="round"/>
<path d="M1049.3 1516.8L1073.8 1528.1L1071.4 1538.0L1060.3 1550.3L1064.0 1561.3L1078.7 1562.5L1093.5 1573.6L1098.4 1609.2L1095.9 1609.2L1051.7 1561.3L1056.7 1538.0Z" fill="#ff6800" stroke="#ff6800" stroke-width="3" stroke-linejoin="round"/>
<path d="M1051.7 1561.3L1095.9 1609.2L1115.6 1633.8L1086.1 1648.5L1087.3 1663.3L1083.7 1670.6L1072.6 1686.6L1070.2 1673.1L1066.5 1641.1L1059.1 1624.0L1054.2 1604.3L1050.5 1582.2Z" fill="#cb0000" stroke="#cb0000" stroke-width="3" stroke-linejoin="round"/>
<path d="M1007.6 1646.1L1024.7 1649.7L1066.5 1641.1L1070.2 1673.1L1072.6 1686.6L1049.3 1692.7L1034.6 1685.4L1019.8 1663.3Z" fill="#ff9700" stroke="#ff9700" stroke-width="3" stroke-linejoin="round"/>
<path d="M1073.8 1528.1L1115.6 1523.2L1127.8 1501.1L1131.5 1486.4L1137.7 1501.1L1140.1 1525.7L1156.1 1526.9L1154.8 1547.8L1148.7 1550.3L1152.4 1562.5L1176.9 1574.8L1169.6 1594.5L1162.2 1606.8L1158.5 1628.9L1156.1 1653.4L1153.6 1673.1L1115.6 1633.8L1095.9 1609.2L1098.4 1609.2L1093.5 1573.6L1078.7 1562.5L1064.0 1561.3L1060.3 1550.3L1071.4 1538.0Z" fill="#ff2100" stroke="#ff2100" stroke-width="3" stroke-linejoin="round"/>
<path d="M1156.1 1526.9L1181.8 1530.6L1203.9 1540.4L1212.5 1550.3L1215.0 1574.8L1215.0 1592.0L1201.5 1584.6L1186.7 1568.7L1179.4 1577.3L1152.4 1562.5L1148.7 1550.3L1154.8 1547.8Z" fill="#e2ff15" stroke="#e2ff15" stroke-width="3" stroke-linejoin="round"/>
<path d="M1186.7 1568.7L1201.5 1584.6L1215.0 1592.0L1203.9 1611.7L1194.1 1633.8L1186.7 1648.5L1181.8 1663.3L1179.4 1687.8L1163.4 1685.4L1153.6 1673.1L1156.1 1653.4L1158.5 1628.9L1162.2 1606.8L1169.6 1594.5L1179.4 1577.3Z" fill="#ff9700" stroke="#ff9700" stroke-width="3" stroke-linejoin="round"/>
<path d="M1215.0 1592.0L1228.5 1604.3L1243.2 1616.6L1253.0 1628.9L1262.8 1636.2L1266.5 1648.5L1262.8 1663.3L1272.6 1682.9L1262.8 1697.6L1262.8 1718.5L1240.7 1718.5L1196.6 1702.6L1172.0 1690.3L1163.4 1685.4L1179.4 1687.8L1181.8 1663.3L1186.7 1648.5L1194.1 1633.8L1203.9 1611.7Z" fill="#ff6800" stroke="#ff6800" stroke-width="3" stroke-linejoin="round"/>
<path d="M1086.1 1648.5L1115.6 1633.8L1153.6 1673.1L1163.4 1685.4L1122.9 1686.6L1121.7 1709.9L1113.1 1714.8L1095.9 1709.9L1093.5 1687.8L1072.6 1686.6L1083.7 1670.6L1087.3 1663.3Z" fill="#ff9700" stroke="#ff9700" stroke-width="3" stroke-linejoin="round"/>
<path d="M1122.9 1686.6L1163.4 1685.4L1165.9 1700.1L1169.6 1725.9L1163.4 1727.1L1158.5 1746.8L1149.9 1749.2L1147.5 1766.4L1142.6 1786.1L1132.7 1787.3L1130.3 1771.3L1127.8 1746.8L1122.9 1722.2L1121.7 1709.9Z" fill="#ff2100" stroke="#ff2100" stroke-width="3" stroke-linejoin="round"/>
<path d="M1163.4 1685.4L1172.0 1690.3L1196.6 1702.6L1240.7 1718.5L1230.9 1732.0L1223.6 1730.8L1203.9 1746.8L1201.5 1756.6L1181.8 1759.1L1162.2 1768.9L1142.6 1786.1L1147.5 1766.4L1149.9 1749.2L1158.5 1746.8L1163.4 1727.1L1169.6 1725.9L1165.9 1700.1Z" fill="#ffd900" stroke="#ffd900" stroke-width="3" stroke-linejoin="round"/>
<path d="M1240.7 1718.5L1262.8 1718.5L1275.1 1722.2L1282.5 1732.0L1287.4 1740.6L1265.3 1759.1L1259.1 1765.2L1253.0 1759.1L1243.2 1768.9L1238.3 1781.2L1216.2 1788.5L1218.7 1805.7L1213.7 1814.3L1186.7 1803.3L1162.2 1807.0L1152.4 1803.3L1142.6 1786.1L1162.2 1768.9L1181.8 1759.1L1201.5 1756.6L1203.9 1746.8L1223.6 1730.8L1230.9 1732.0Z" fill="#cb0000" stroke="#cb0000" stroke-width="3" stroke-linejoin="round"/>
<path d="M1287.4 1740.6L1297.2 1766.4L1294.7 1783.6L1294.7 1803.3L1299.6 1813.1L1316.8 1822.9L1324.2 1830.3L1314.4 1864.7L1302.1 1862.2L1287.4 1850.0L1280.0 1835.2L1262.8 1837.7L1255.5 1822.9L1240.7 1818.0L1213.7 1814.3L1218.7 1805.7L1216.2 1788.5L1238.3 1781.2L1243.2 1768.9L1253.0 1759.1L1259.1 1765.2L1265.3 1759.1Z" fill="#ffd900" stroke="#ffd900" stroke-width="3" stroke-linejoin="round"/>
<path d="M930.7 1689.5L954.8 1685.4L958.5 1654.7L978.1 1663.3L1007.6 1690.3L997.0 1709.4L999.5 1714.4L1016.6 1736.5L992.1 1748.7L982.3 1768.4L962.6 1783.1L950.4 1756.1L940.6 1734.0L935.6 1714.4L933.2 1692.2Z" fill="#ffd900" stroke="#ffd900" stroke-width="3" stroke-linejoin="round"/>
<path d="M997.0 1709.4L1009.3 1692.2L1036.3 1707.0L1048.6 1689.8L1072.6 1686.6L1071.4 1709.9L1068.2 1721.7L1053.5 1738.9L1016.6 1736.5L999.5 1714.4Z" fill="#ffd900" stroke="#ffd900" stroke-width="3" stroke-linejoin="round"/>
<path d="M962.6 1783.1L982.3 1768.4L992.1 1748.7L1016.6 1736.5L1053.5 1738.9L1064.0 1744.3L1086.1 1766.4L1098.4 1776.3L1109.4 1791.0L1105.7 1800.8L1098.4 1803.3L1073.1 1797.9L1068.2 1793.0L1048.6 1810.2L1024.0 1812.6L987.2 1832.3L962.6 1823.7L957.7 1807.7L950.4 1793.0Z" fill="#ff9700" stroke="#ff9700" stroke-width="3" stroke-linejoin="round"/>
<path d="M1072.6 1686.6L1093.5 1687.8L1095.9 1709.9L1113.1 1714.8L1122.9 1722.2L1127.8 1746.8L1130.3 1771.3L1132.7 1787.3L1142.6 1786.1L1152.4 1803.3L1148.7 1818.0L1113.1 1818.0L1115.6 1805.7L1109.4 1791.0L1098.4 1776.3L1086.1 1766.4L1064.0 1744.3L1053.5 1738.9L1068.2 1721.7L1071.4 1709.9Z" fill="#ff6800" stroke="#ff6800" stroke-width="3" stroke-linejoin="round"/>
<path d="M1048.6 1810.2L1068.2 1793.0L1073.1 1797.9L1097.6 1804.0L1107.5 1797.9L1114.8 1805.2L1109.9 1817.5L1097.6 1822.4L1073.1 1827.4L1070.6 1834.7L1065.7 1829.8L1051.0 1829.8L1051.0 1822.4Z" fill="#800000" stroke="#800000" stroke-width="3" stroke-linejoin="round"/>
<path d="M962.7 1823.8L987.3 1832.4L1024.1 1812.7L1048.6 1810.3L1051.1 1822.5L1046.9 1845.1L1039.6 1862.3L1007.7 1879.5L992.9 1859.9L925.9 1896.2L908.7 1865.5L923.5 1861.9L938.2 1849.6L950.5 1832.4Z" fill="#ffd900" stroke="#ffd900" stroke-width="3" stroke-linejoin="round"/>
<path d="M1072.2 1322.7L1072.2 1403.5L1087.9 1402.8L1095.8 1408.7L1105.6 1422.9L1119.3 1415.3L1165.0 1372.3L1165.0 1332.5Z" fill="#adff4a" stroke="#adff4a" stroke-width="3" stroke-linejoin="round"/>
<path d="M1047.4 1455.8L1069.8 1454.6L1072.2 1440.1L1104.9 1423.2L1123.3 1424.4L1125.7 1445.5L1145.4 1461.0L1152.0 1478.2L1154.6 1479.4L1166.4 1470.3L1185.8 1489.7L1200.5 1494.6L1217.7 1494.6L1216.5 1511.8L1215.2 1524.1L1203.0 1541.3L1181.8 1530.5L1156.1 1526.8L1140.1 1525.6L1137.9 1489.7L1133.0 1486.0L1129.3 1488.5L1127.8 1501.0L1115.6 1523.2L1073.8 1528.1L1049.3 1516.8L1048.2 1499.6L1050.6 1475.0Z" fill="#ff6800" stroke="#ff6800" stroke-width="3" stroke-linejoin="round"/>
<path d="M1119.3 1415.3L1127.1 1407.4L1163.7 1411.4L1157.1 1427.1L1191.2 1433.7L1193.6 1442.8L1181.8 1451.9L1175.5 1463.7L1166.4 1470.3L1154.6 1479.4L1151.9 1478.2L1145.3 1461.0L1125.9 1445.5L1123.2 1424.4Z" fill="#ff6800" stroke="#ff6800" stroke-width="3" stroke-linejoin="round"/>
<path d="M1119.3 1415.3L1164.9 1372.3L1164.9 1357.1L1242.2 1357.1L1239.8 1379.2L1232.4 1398.8L1222.6 1414.8L1195.6 1418.5L1193.1 1430.8L1191.2 1433.7L1157.1 1427.1L1163.7 1411.4L1127.1 1407.4Z" fill="#e2ff15" stroke="#e2ff15" stroke-width="3" stroke-linejoin="round"/>
<path d="M1195.6 1418.5L1222.6 1414.8L1228.7 1430.8L1222.6 1455.3L1233.6 1470.1L1220.1 1494.6L1217.7 1494.6L1200.5 1494.6L1185.8 1489.7L1166.4 1470.3L1175.5 1463.7L1181.8 1451.9L1193.6 1442.8L1191.2 1433.7L1193.1 1430.8Z" fill="#ffd900" stroke="#ffd900" stroke-width="3" stroke-linejoin="round"/>
<path d="M1239.8 1379.2L1239.8 1357.1L1301.1 1381.6L1298.7 1407.4L1271.7 1438.1L1234.9 1477.4L1233.6 1470.1L1222.6 1455.3L1228.7 1430.8L1222.6 1414.8L1232.4 1398.8Z" fill="#adff4a" stroke="#adff4a" stroke-width="3" stroke-linejoin="round"/>
<path d="M1320.8 1428.3L1396.9 1495.9L1401.8 1592.9L1409.1 1594.1L1407.9 1600.3L1374.8 1612.6L1342.9 1634.7L1337.9 1624.8L1325.7 1610.1L1296.2 1590.4L1261.9 1570.8L1227.5 1553.6L1217.7 1548.7L1225.0 1547.5L1227.5 1538.9L1247.1 1516.8L1249.6 1502.0L1257.0 1511.8L1261.9 1519.2L1288.9 1521.7L1298.7 1511.8L1299.9 1502.0L1293.8 1482.4L1279.0 1477.4L1276.6 1470.1L1296.2 1445.5L1306.0 1443.1L1315.9 1440.6Z" fill="#ffd900" stroke="#ffd900" stroke-width="3" stroke-linejoin="round"/>
<path d="M1298.7 1407.4L1301.1 1401.3L1320.8 1401.3L1320.8 1428.3L1315.9 1440.6L1306.0 1443.1L1296.2 1445.5L1276.6 1470.1L1279.0 1477.4L1293.8 1482.4L1299.9 1502.0L1298.7 1511.8L1288.9 1521.7L1261.9 1519.2L1257.0 1511.8L1249.6 1502.0L1247.1 1516.8L1227.5 1538.9L1225.0 1547.5L1217.7 1548.7L1203.0 1541.3L1215.2 1524.1L1216.5 1511.8L1217.7 1494.6L1220.1 1494.6L1234.9 1477.4L1271.7 1438.1Z" fill="#15ffe2" stroke="#15ffe2" stroke-width="3" stroke-linejoin="round"/>
<path d="M1217.7 1548.7L1227.5 1553.6L1261.9 1570.8L1296.2 1590.4L1325.7 1610.1L1337.9 1624.8L1342.9 1634.7L1313.4 1637.1L1306.0 1644.5L1276.6 1655.5L1261.9 1661.7L1266.8 1647.0L1263.1 1634.7L1254.5 1629.8L1242.2 1615.0L1230.0 1605.2L1215.2 1592.9L1214.0 1553.6Z" fill="#ff2100" stroke="#ff2100" stroke-width="3" stroke-linejoin="round"/>
<path d="M1396.9 1495.9L1517.1 1602.7L1517.1 1627.3L1503.6 1628.5L1455.8 1634.7L1394.4 1640.8L1342.9 1664.1L1342.9 1634.7L1374.8 1612.6L1407.9 1600.3L1409.1 1594.1L1401.8 1592.9Z" fill="#cb0000" stroke="#cb0000" stroke-width="3" stroke-linejoin="round"/>
<path d="M1355.1 1658.0L1394.4 1637.1L1455.8 1632.2L1503.6 1624.8L1517.1 1624.8L1517.1 1654.3L1503.6 1654.3Z" fill="#e6ff10" stroke="#e6ff10" stroke-width="3" stroke-linejoin="round"/>
<path d="M1263.1 1661.6L1276.6 1655.5L1306.0 1644.4L1313.4 1637.1L1342.9 1634.6L1342.9 1659.2L1340.4 1685.0L1320.8 1685.0L1310.9 1697.3L1293.8 1704.6L1274.1 1714.5L1264.3 1713.2L1261.9 1699.7L1274.1 1687.4L1266.8 1675.2Z" fill="#cb0000" stroke="#cb0000" stroke-width="3" stroke-linejoin="round"/>
<path d="M1264.3 1713.2L1274.1 1714.5L1293.8 1704.6L1310.9 1697.3L1320.8 1685.0L1340.4 1685.0L1337.9 1714.5L1342.9 1758.7L1355.1 1785.7L1298.7 1809.0L1293.8 1798.0L1298.7 1771.0L1293.8 1753.8L1286.4 1739.0L1276.6 1725.5L1266.8 1720.6Z" fill="#ff6800" stroke="#ff6800" stroke-width="3" stroke-linejoin="round"/>
<path d="M1342.9 1659.2L1355.1 1657.5L1443.5 1655.0L1443.5 1685.0L1434.9 1685.0L1434.9 1763.6L1394.4 1768.5L1355.1 1785.7L1342.9 1758.7L1337.9 1714.5L1340.4 1685.0Z" fill="#ff2100" stroke="#ff2100" stroke-width="3" stroke-linejoin="round"/>
<path d="M1443.5 1655.0L1517.1 1653.0L1517.1 1817.6L1485.2 1818.9L1477.9 1812.7L1480.3 1793.1L1450.9 1785.7L1445.9 1802.9L1434.9 1763.6L1434.9 1685.0L1443.5 1685.0Z" fill="#ff9700" stroke="#ff9700" stroke-width="3" stroke-linejoin="round"/>
<path d="M1298.7 1809.0L1355.1 1785.7L1394.4 1768.5L1434.9 1763.6L1445.9 1802.9L1411.6 1812.7L1409.1 1827.5L1404.2 1837.3L1396.9 1842.2L1389.5 1856.9L1379.7 1861.9L1369.9 1856.9L1345.3 1844.7L1335.5 1834.8L1325.7 1827.5L1308.5 1820.1Z" fill="#ff9700" stroke="#ff9700" stroke-width="3" stroke-linejoin="round"/>
<path d="M1445.9 1802.9L1450.9 1785.7L1480.3 1793.1L1477.9 1812.7L1485.2 1818.9L1389.5 1858.2L1396.9 1842.2L1404.2 1837.3L1409.1 1827.5L1411.6 1812.7Z" fill="#ff6800" stroke="#ff6800" stroke-width="3" stroke-linejoin="round"/>
<path d="M1379.7 1861.9L1485.2 1818.9L1517.1 1817.6L1517.1 1911.0L1496.3 1935.6L1431.2 1901.2Z" fill="#7bff7b" stroke="#7bff7b" stroke-width="3" stroke-linejoin="round"/>
<path d="M1379.7 1861.9L1431.2 1901.2L1423.9 1942.9L1401.8 1938.0L1389.5 1915.9L1345.3 1935.6L1337.9 1911.0L1330.6 1891.3L1357.6 1881.5L1369.9 1871.7Z" fill="#ff9700" stroke="#ff9700" stroke-width="3" stroke-linejoin="round"/>
<path d="M1431.2 1901.2L1496.3 1935.6L1526.9 1957.7L1553.9 1972.4L1553.9 2046.1L1490.1 2014.2L1482.8 2033.8L1475.4 2028.9L1463.1 2033.8L1448.4 2041.2L1441.0 2031.4L1443.5 2009.2L1431.2 2001.9L1418.9 2004.3L1414.0 1999.4L1418.9 1972.4L1423.9 1942.9Z" fill="#adff4a" stroke="#adff4a" stroke-width="3" stroke-linejoin="round"/>
<path d="M1259.4 1839.7L1284.0 1834.8L1288.9 1852.0L1301.1 1861.9L1313.4 1864.3L1320.8 1847.1L1325.7 1827.5L1335.5 1834.8L1345.3 1844.7L1369.9 1856.9L1379.7 1861.9L1369.9 1871.7L1357.6 1881.5L1330.6 1891.3L1293.8 1901.2L1288.9 1896.2L1269.2 1906.1L1252.0 1893.8L1232.4 1881.5L1239.8 1869.2L1252.0 1876.6L1261.9 1856.9Z" fill="#ffd900" stroke="#ffd900" stroke-width="3" stroke-linejoin="round"/>
<path d="M1293.8 1901.2L1330.6 1891.3L1337.9 1911.0L1345.3 1935.6L1342.9 1942.9L1357.6 1999.4L1320.8 1989.6L1315.9 1972.4L1313.4 1930.6Z" fill="#daff1d" stroke="#daff1d" stroke-width="3" stroke-linejoin="round"/>
<path d="M1345.3 1935.6L1389.5 1915.9L1401.8 1938.0L1423.9 1942.9L1418.9 1972.4L1414.0 1999.4L1418.9 2004.3L1431.2 2001.9L1443.5 2009.2L1441.0 2026.4L1414.0 2019.1L1369.9 2001.9L1357.6 1999.4L1342.9 1942.9Z" fill="#ff9700" stroke="#ff9700" stroke-width="3" stroke-linejoin="round"/>
<path d="M925.9 1896.2L992.9 1859.9L1007.7 1879.5L997.1 1886.4L994.6 1903.6L1002.0 1920.8L1006.9 1925.7L950.5 1982.2L933.3 2001.9L925.9 2004.3L906.3 2003.1L903.8 2019.1L896.5 2021.5L886.6 2009.2L876.8 1997.0L869.5 1982.2L889.1 1955.2L906.3 1933.1L911.2 1913.4L921.0 1896.2L908.7 1865.5Z" fill="#ffd900" stroke="#ffd900" stroke-width="3" stroke-linejoin="round"/>
<path d="M1007.6 1879.6L1039.5 1862.4L1046.8 1845.2L1051.0 1829.8L1065.7 1829.8L1070.6 1834.7L1073.1 1827.3L1097.6 1822.4L1109.9 1817.5L1113.1 1818.0L1148.7 1818.0L1137.7 1820.4L1136.4 1858.5L1135.2 1878.2L1127.8 1880.6L1122.9 1890.4L1124.2 1905.2L1113.1 1902.7L1110.7 1906.4L1088.6 1906.4L1081.2 1910.1L1078.7 1919.9L1071.4 1929.7L1065.2 1934.7L1054.2 1924.8L1024.7 1934.7L1001.9 1920.9L994.6 1903.7L997.0 1886.5Z" fill="#ff6800" stroke="#ff6800" stroke-width="3" stroke-linejoin="round"/>
<path d="M926.6 2003.4L933.2 2002.0L950.4 1982.3L1005.1 1926.1L1001.9 1920.9L1019.6 1935.6L946.4 2026.8L940.1 2023.1L936.4 2005.9Z" fill="#ff9700" stroke="#ff9700" stroke-width="3" stroke-linejoin="round"/>
<path d="M1019.6 1935.6L1024.7 1934.7L1054.2 1924.8L1065.2 1934.7L1073.8 1945.7L1054.2 1966.6L1034.6 1991.2L1014.9 2015.7L1005.1 2023.1L975.7 1998.5L946.4 2026.8Z" fill="#ff6800" stroke="#ff6800" stroke-width="3" stroke-linejoin="round"/>
<path d="M1148.7 1818.0L1152.4 1803.2L1162.2 1806.9L1186.7 1803.2L1213.7 1814.3L1240.7 1818.0L1255.5 1822.9L1262.8 1837.6L1262.8 1854.8L1253.0 1879.4L1243.2 1869.6L1233.4 1884.3L1230.9 1881.8L1213.7 1885.5L1208.8 1870.8L1197.8 1872.0L1181.8 1857.3L1169.6 1830.3L1157.3 1820.4Z" fill="#ff6800" stroke="#ff6800" stroke-width="3" stroke-linejoin="round"/>
<path d="M1137.7 1820.4L1148.7 1818.0L1157.3 1820.4L1169.6 1830.3L1181.8 1857.3L1197.8 1872.0L1199.0 1873.2L1203.9 1907.6L1208.8 1956.8L1208.8 1966.6L1203.9 2008.4L1152.4 2013.3L1145.0 1993.6L1132.7 1996.1L1113.1 1999.8L1098.4 1992.4L1073.8 1945.7L1065.2 1934.7L1071.4 1929.7L1078.7 1919.9L1081.2 1910.1L1088.6 1906.4L1110.7 1906.4L1113.1 1902.7L1124.2 1905.2L1122.9 1890.4L1127.8 1880.6L1135.2 1878.2L1136.4 1858.5Z" fill="#ff2100" stroke="#ff2100" stroke-width="3" stroke-linejoin="round"/>
<path d="M1065.2 1934.7L1071.4 1929.7L1078.7 1919.9L1081.2 1910.1L1088.6 1906.4L1110.7 1906.4L1113.1 1902.7L1120.5 1905.2L1130.3 1927.3L1142.6 1951.9L1145.0 1993.6L1132.7 1996.1L1113.1 1999.8L1098.4 1992.4L1073.8 1945.7Z" fill="#ff2100" stroke="#ff2100" stroke-width="3" stroke-linejoin="round"/>
<path d="M1137.7 1820.4L1148.7 1818.0L1157.3 1820.4L1169.6 1830.3L1181.8 1857.3L1172.0 1880.6L1159.7 1897.8L1122.9 1902.7L1122.9 1890.4L1127.8 1880.6L1135.2 1878.2L1136.4 1858.5Z" fill="#ff2100" stroke="#ff2100" stroke-width="3" stroke-linejoin="round"/>
<path d="M1014.9 2015.7L1034.6 1991.2L1054.2 1966.6L1073.8 1945.7L1098.4 1992.4L1095.9 1996.1L1073.8 2025.6L1061.6 2035.4L1059.1 2047.7Z" fill="#ff6800" stroke="#ff6800" stroke-width="3" stroke-linejoin="round"/>
<path d="M1061.6 2035.4L1073.8 2025.6L1095.9 1996.1L1098.4 1992.4L1103.3 1999.8L1105.7 2013.3L1118.0 2018.2L1110.7 2035.4L1105.7 2050.1L1110.7 2069.8L1108.2 2074.7L1088.6 2069.8L1061.6 2071.0L1068.9 2055.0L1059.1 2047.7Z" fill="#ff2100" stroke="#ff2100" stroke-width="3" stroke-linejoin="round"/>
<path d="M1197.8 1872.0L1208.8 1870.8L1213.7 1885.5L1230.9 1881.8L1262.8 1904.0L1229.7 1922.4L1240.7 1946.9L1248.1 1949.4L1238.3 1974.0L1208.8 1966.6L1208.8 1956.8L1203.9 1907.6L1199.0 1873.2Z" fill="#ff9700" stroke="#ff9700" stroke-width="3" stroke-linejoin="round"/>
<path d="M1208.8 1966.6L1238.3 1974.0L1275.1 1986.2L1282.5 1998.5L1284.9 2018.2L1270.2 2035.4L1240.7 2052.6L1223.6 2062.4L1218.7 2079.6L1213.7 2101.7L1196.6 2116.4L1186.7 2104.2L1186.7 2089.4L1196.6 2067.3L1203.9 2030.5L1203.9 2008.4Z" fill="#ff9700" stroke="#ff9700" stroke-width="3" stroke-linejoin="round"/>
<path d="M1132.7 1996.1L1145.0 1993.6L1152.4 2013.3L1203.9 2008.4L1203.9 2030.5L1196.6 2067.3L1186.7 2089.4L1186.7 2104.2L1196.6 2116.4L1167.1 2094.3L1157.3 2101.7L1147.5 2098.0L1132.7 2096.8L1135.2 2062.4L1138.9 2050.1L1135.2 2018.2Z" fill="#ff9700" stroke="#ff9700" stroke-width="3" stroke-linejoin="round"/>
<path d="M1103.3 1999.8L1113.1 1999.8L1132.7 1996.1L1135.2 2018.2L1138.9 2050.1L1135.2 2062.4L1132.7 2096.8L1135.2 2128.7L1135.2 2144.7L1103.3 2143.5L1103.3 2094.3L1115.6 2077.1L1110.7 2069.8L1105.7 2050.1L1110.7 2035.4L1118.0 2018.2L1105.7 2013.3Z" fill="#ff6800" stroke="#ff6800" stroke-width="3" stroke-linejoin="round"/>
<path d="M1032.1 2118.9L1044.4 2104.2L1061.6 2071.0L1088.6 2069.8L1108.2 2074.7L1115.6 2077.1L1103.3 2094.3L1103.3 2143.5L1059.1 2130.0Z" fill="#ff2100" stroke="#ff2100" stroke-width="3" stroke-linejoin="round"/>
<path d="M1059.1 2130.0L1103.3 2143.5L1135.2 2144.7L1140.1 2165.6L1145.0 2202.4L1118.0 2204.9L1073.8 2195.1L1066.5 2185.2L1070.2 2175.4L1056.7 2168.0L1064.0 2141.0Z" fill="#ff9700" stroke="#ff9700" stroke-width="3" stroke-linejoin="round"/>
<path d="M1229.7 1922.4L1262.8 1904.0L1289.8 1897.8L1294.7 1901.5L1311.9 1929.7L1316.8 1969.1L1321.7 1993.6L1323.2 2009.3L1318.3 2038.3L1314.4 2045.2L1304.6 2074.7L1282.5 2096.8L1253.0 2136.1L1233.4 2118.9L1221.1 2106.6L1217.4 2094.3L1218.7 2079.6L1223.6 2062.4L1240.7 2052.6L1270.2 2035.4L1284.9 2018.2L1282.5 1998.5L1275.1 1986.2L1238.3 1974.0L1248.1 1949.4L1240.7 1946.9Z" fill="#ff2100" stroke="#ff2100" stroke-width="3" stroke-linejoin="round"/>
<path d="M1132.7 2096.8L1147.5 2098.0L1157.3 2101.7L1167.1 2094.3L1196.6 2116.4L1213.7 2101.7L1217.4 2094.3L1221.1 2106.6L1233.4 2118.9L1253.0 2136.1L1243.2 2160.7L1240.7 2160.7L1162.2 2153.3L1135.2 2144.7Z" fill="#ffd900" stroke="#ffd900" stroke-width="3" stroke-linejoin="round"/>
<path d="M1135.2 2144.7L1162.2 2153.3L1240.7 2160.7L1243.2 2160.7L1238.3 2175.4L1216.2 2207.3L1164.7 2236.8L1152.4 2202.4L1145.0 2202.4L1140.1 2165.6Z" fill="#ff9700" stroke="#ff9700" stroke-width="3" stroke-linejoin="round"/>
<path d="M1320.8 1989.5L1357.6 1999.4L1369.9 2001.8L1414.0 2019.0L1441.0 2026.4L1448.4 2041.1L1463.1 2033.8L1475.4 2028.9L1482.8 2033.8L1490.1 2014.1L1493.8 2037.5L1503.6 2071.8L1509.8 2095.2L1411.6 2094.0L1406.7 2081.7L1394.4 2068.2L1372.3 2062.0L1352.7 2066.9L1308.5 2096.4L1298.7 2087.8L1286.4 2094.0L1281.5 2096.4L1306.0 2064.5L1318.3 2022.7L1323.2 2009.2Z" fill="#ff6800" stroke="#ff6800" stroke-width="3" stroke-linejoin="round"/>
<path d="M1253.0 2136.2L1261.9 2125.9L1286.4 2094.0L1298.7 2087.8L1308.5 2096.4L1352.7 2066.9L1372.3 2062.0L1394.4 2068.2L1406.7 2081.7L1411.6 2094.0L1406.7 2121.0L1369.9 2135.7L1345.3 2148.0L1313.4 2146.8L1284.0 2148.0L1261.9 2141.9Z" fill="#ffd900" stroke="#ffd900" stroke-width="3" stroke-linejoin="round"/>
<path d="M1243.2 2160.8L1253.0 2136.2L1261.9 2141.9L1284.0 2148.0L1313.4 2146.8L1313.4 2176.2L1271.7 2177.5L1247.1 2182.4Z" fill="#ffd900" stroke="#ffd900" stroke-width="3" stroke-linejoin="round"/>
<path d="M1411.6 2094.0L1502.4 2095.2L1517.1 2096.4L1517.1 2121.0L1422.6 2199.6L1411.6 2179.9L1407.9 2150.5L1409.1 2128.3L1406.7 2121.0Z" fill="#15ffe2" stroke="#15ffe2" stroke-width="3" stroke-linejoin="round"/>
<path d="M1313.4 2146.8L1345.3 2148.0L1369.9 2135.7L1406.7 2121.0L1409.1 2128.3L1407.9 2150.5L1411.6 2179.9L1422.6 2199.6L1406.7 2215.6L1394.4 2211.9L1357.6 2234.0L1318.3 2234.0L1315.9 2229.1L1310.9 2194.7L1313.4 2176.2Z" fill="#adff4a" stroke="#adff4a" stroke-width="3" stroke-linejoin="round"/>
<path d="M1257.0 2251.2L1271.7 2241.3L1315.9 2229.1L1318.3 2234.0L1357.6 2234.0L1394.4 2211.9L1406.7 2215.6L1418.9 2219.2L1306.0 2317.5L1296.2 2283.1L1281.5 2273.3L1269.2 2268.4Z" fill="#52ffa5" stroke="#52ffa5" stroke-width="3" stroke-linejoin="round"/>
<path d="M1243.2 2160.8L1247.1 2182.4L1271.7 2177.5L1313.4 2176.2L1310.9 2194.7L1315.9 2229.1L1271.7 2241.3L1257.0 2251.2L1239.8 2238.9L1227.5 2219.2L1230.0 2204.5L1222.6 2202.0L1238.3 2175.5Z" fill="#daff1d" stroke="#daff1d" stroke-width="3" stroke-linejoin="round"/>
<path d="M1163.7 2238.9L1198.0 2226.6L1216.2 2207.4L1222.6 2202.0L1230.0 2204.5L1227.5 2219.2L1239.8 2238.9L1257.0 2251.2L1269.2 2268.4L1281.5 2273.3L1296.2 2283.1L1306.0 2301.5L1306.0 2329.8L1247.1 2366.6L1203.0 2366.6L1198.0 2329.8L1193.1 2305.2L1180.9 2268.4L1168.6 2243.8Z" fill="#52ffa5" stroke="#52ffa5" stroke-width="3" stroke-linejoin="round"/>
<path d="M1163.7 2238.9L1168.6 2243.8L1180.9 2268.4L1193.1 2305.2L1198.0 2329.8L1203.0 2366.6L1119.7 2366.6L1118.3 2317.5L1119.7 2292.9L1129.3 2278.2L1149.0 2255.6Z" fill="#00bdff" stroke="#00bdff" stroke-width="3" stroke-linejoin="round"/>
<path d="M782.3 2017.8L879.3 2017.8L876.8 2022.7L849.8 2047.3L827.7 2064.5L810.6 2081.7L790.9 2071.8L773.7 2022.7Z" fill="#7bff7b" stroke="#7bff7b" stroke-width="3" stroke-linejoin="round"/>
<path d="M810.6 2081.7L827.7 2064.5L849.8 2047.3L876.8 2022.7L881.7 2030.1L889.1 2035.0L896.5 2054.6L916.1 2059.6L925.9 2069.4L935.7 2080.4L894.0 2121.0L852.3 2155.4L827.7 2145.5L790.9 2084.1Z" fill="#7bff7b" stroke="#7bff7b" stroke-width="3" stroke-linejoin="round"/>
<path d="M879.3 2026.4L889.1 2009.2L896.5 2021.5L903.8 2019.0L906.3 2003.1L925.9 2004.3L935.7 2009.2L940.6 2026.4L965.2 2047.3L935.7 2080.4L925.9 2069.4L916.1 2059.6L896.5 2054.6L889.1 2035.0L881.7 2030.1Z" fill="#ff9700" stroke="#ff9700" stroke-width="3" stroke-linejoin="round"/>
<path d="M894.0 2121.0L935.7 2080.4L965.2 2047.3L946.3 2028.1L975.7 1998.6L1005.2 2023.2L1017.5 2055.1L992.9 2099.4L965.9 2096.9L961.0 2100.6L946.3 2123.9L941.4 2119.0L923.5 2143.1Z" fill="#ff2100" stroke="#ff2100" stroke-width="3" stroke-linejoin="round"/>
<path d="M946.2 2028.0L975.7 1998.5L1005.1 2023.1L997.7 2047.7L994.1 2062.4L978.1 2062.4L965.8 2047.7Z" fill="#cb0000" stroke="#cb0000" stroke-width="3" stroke-linejoin="round"/>
<path d="M1005.1 2023.1L1014.9 2015.7L1059.1 2047.7L1068.9 2055.0L1044.4 2104.2L1032.1 2118.9L992.8 2099.3L1017.4 2055.0Z" fill="#cb0000" stroke="#cb0000" stroke-width="3" stroke-linejoin="round"/>
<path d="M923.5 2143.1L941.4 2119.0L946.3 2123.9L961.0 2100.6L965.9 2096.9L992.9 2099.4L1032.2 2119.0L1026.6 2133.3L1006.9 2145.5L997.1 2160.3L992.2 2182.4L982.4 2189.8L965.2 2197.1L946.8 2192.2L957.8 2165.2Z" fill="#ff2100" stroke="#ff2100" stroke-width="3" stroke-linejoin="round"/>
<path d="M852.3 2155.4L894.0 2121.0L923.5 2143.1L957.8 2165.2L946.8 2192.2L925.9 2219.2L908.7 2238.9L896.5 2234.0L871.9 2194.7Z" fill="#52ffa5" stroke="#52ffa5" stroke-width="3" stroke-linejoin="round"/>
<path d="M908.7 2238.9L925.9 2219.2L946.8 2192.2L965.2 2197.1L982.4 2189.8L992.2 2182.4L997.1 2160.3L1006.9 2145.5L1026.6 2133.3L1032.2 2119.0L1058.5 2128.3L1063.4 2145.5L1056.0 2167.6L1070.7 2175.0L1063.4 2192.2L1053.6 2207.0L1056.0 2219.2L1051.1 2243.8L1043.7 2246.3L1056.0 2256.1L1063.4 2253.6L1056.0 2270.8L1058.5 2278.2L1053.6 2312.6L1048.6 2327.3L1024.1 2342.1L901.4 2268.4Z" fill="#7bff7b" stroke="#7bff7b" stroke-width="3" stroke-linejoin="round"/>
<path d="M1056.0 2256.1L1073.2 2251.2L1105.1 2258.5L1110.0 2240.1L1134.1 2246.3L1149.0 2254.9L1129.4 2278.2L1119.8 2292.9L1118.4 2317.5L1119.8 2366.6L1085.5 2378.9L1048.6 2327.3L1053.6 2312.6L1058.5 2278.2L1056.0 2270.8L1063.4 2253.6Z" fill="#52ffa5" stroke="#52ffa5" stroke-width="3" stroke-linejoin="round"/>
<path d="M1043.7 2246.3L1051.1 2243.8L1056.0 2219.2L1053.6 2207.0L1063.4 2192.2L1066.6 2185.3L1073.9 2195.2L1118.1 2205.0L1146.6 2203.3L1152.5 2202.5L1163.8 2237.7L1149.0 2254.9L1134.1 2246.3L1110.0 2240.1L1105.1 2258.5L1073.2 2251.2L1056.0 2256.1Z" fill="#ffd900" stroke="#ffd900" stroke-width="3" stroke-linejoin="round"/>
<path d="M705.0 1624.8L724.7 1624.8L733.2 1634.7L733.2 1639.6L722.2 1639.6L709.9 1658.0L705.0 1658.0Z" fill="#0080ff" stroke="#0080ff" stroke-width="3" stroke-linejoin="round"/>
<path d="M692.7 1693.6L705.0 1693.6L706.2 1698.5L701.3 1705.9L692.7 1707.1Z" fill="#0080ff" stroke="#0080ff" stroke-width="3" stroke-linejoin="round"/>
</g>
<path class="g" d="M754.3 1303.0V2389.5M924.3 1303.0V2389.5M1094.3 1303.0V2389.5M1264.2 1303.0V2389.5M1434.2 1303.0V2389.5M694.6 2268.9H1571.0M694.6 2117.9H1571.0M694.6 1966.9H1571.0M694.6 1816.0H1571.0M694.6 1665.0H1571.0M694.6 1514.0H1571.0M694.6 1363.0H1571.0"/>
</g>
<rect x="694.6" y="1303.0" width="876.4" height="1086.5" fill="none" stroke="#a4a4a4" stroke-width="1.9"/>
<path d="M754.3 2389.5v4" stroke="#777" stroke-width="1.5"/>
<text class="t" transform="translate(754.3,2413.4) scale(0.945,1)" text-anchor="middle">37.4</text>
<path d="M924.3 2389.5v4" stroke="#777" stroke-width="1.5"/>
<text class="t" transform="translate(924.3,2413.4) scale(0.945,1)" text-anchor="middle">37.5</text>
<path d="M1094.3 2389.5v4" stroke="#777" stroke-width="1.5"/>
<text class="t" transform="translate(1094.3,2413.4) scale(0.945,1)" text-anchor="middle">37.6</text>
<path d="M1264.2 2389.5v4" stroke="#777" stroke-width="1.5"/>
<text class="t" transform="translate(1264.2,2413.4) scale(0.945,1)" text-anchor="middle">37.7</text>
<path d="M1434.2 2389.5v4" stroke="#777" stroke-width="1.5"/>
<text class="t" transform="translate(1434.2,2413.4) scale(0.945,1)" text-anchor="middle">37.8</text>
<path d="M694.6 2268.9h-4" stroke="#777" stroke-width="1.5"/>
<text class="t" transform="translate(687.1,2277.2) scale(0.945,1)" text-anchor="end">55.60</text>
<path d="M694.6 2117.9h-4" stroke="#777" stroke-width="1.5"/>
<text class="t" transform="translate(687.1,2126.2) scale(0.945,1)" text-anchor="end">55.65</text>
<path d="M694.6 1966.9h-4" stroke="#777" stroke-width="1.5"/>
<text class="t" transform="translate(687.1,1975.2) scale(0.945,1)" text-anchor="end">55.70</text>
<path d="M694.6 1816.0h-4" stroke="#777" stroke-width="1.5"/>
<text class="t" transform="translate(687.1,1824.3) scale(0.945,1)" text-anchor="end">55.75</text>
<path d="M694.6 1665.0h-4" stroke="#777" stroke-width="1.5"/>
<text class="t" transform="translate(687.1,1673.3) scale(0.945,1)" text-anchor="end">55.80</text>
<path d="M694.6 1514.0h-4" stroke="#777" stroke-width="1.5"/>
<text class="t" transform="translate(687.1,1522.3) scale(0.945,1)" text-anchor="end">55.85</text>
<path d="M694.6 1363.0h-4" stroke="#777" stroke-width="1.5"/>
<text class="t" transform="translate(687.1,1371.3) scale(0.945,1)" text-anchor="end">55.90</text>
<rect x="1644.2" y="1303.0" width="55.2" height="1086.5" fill="url(#jr)"/>
<path d="M1699.4 2321.8h3.5" stroke="#888" stroke-width="1.2"/>
<text class="t" transform="translate(1705.2,2330.1) scale(0.945,1)">30</text>
<path d="M1699.4 2186.5h3.5" stroke="#888" stroke-width="1.2"/>
<text class="t" transform="translate(1705.2,2194.8) scale(0.945,1)">32</text>
<path d="M1699.4 2051.2h3.5" stroke="#888" stroke-width="1.2"/>
<text class="t" transform="translate(1705.2,2059.5) scale(0.945,1)">34</text>
<path d="M1699.4 1915.9h3.5" stroke="#888" stroke-width="1.2"/>
<text class="t" transform="translate(1705.2,1924.2) scale(0.945,1)">36</text>
<path d="M1699.4 1780.6h3.5" stroke="#888" stroke-width="1.2"/>
<text class="t" transform="translate(1705.2,1788.9) scale(0.945,1)">38</text>
<path d="M1699.4 1645.3h3.5" stroke="#888" stroke-width="1.2"/>
<text class="t" transform="translate(1705.2,1653.6) scale(0.945,1)">40</text>
<path d="M1699.4 1510.0h3.5" stroke="#888" stroke-width="1.2"/>
<text class="t" transform="translate(1705.2,1518.3) scale(0.945,1)">42</text>
<path d="M1699.4 1374.7h3.5" stroke="#888" stroke-width="1.2"/>
<text class="t" transform="translate(1705.2,1383.0) scale(0.945,1)">44</text>
<text class="cap" x="592.7" y="1273.5" text-anchor="middle">(<tspan font-weight="bold" font-size="90">a</tspan>)</text>
<text class="cap" x="1804.5" y="1273.5" text-anchor="middle">(<tspan font-weight="bold" font-size="90">b</tspan>)</text>
<text class="cap" x="1183.6" y="2511.5" text-anchor="middle">(<tspan font-weight="bold" font-size="90">c</tspan>)</text>
</svg></body></html>
